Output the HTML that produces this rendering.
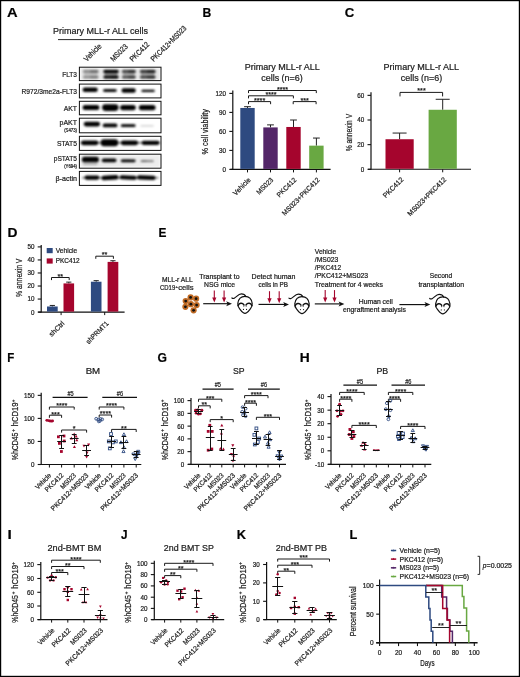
<!DOCTYPE html>
<html><head><meta charset="utf-8"><title>Figure</title>
<style>html,body{margin:0;padding:0;background:#fff}svg{display:block}text{font-family:"Liberation Sans",sans-serif;stroke:#222;stroke-width:0.22px}</style>
</head><body>
<svg width="520" height="677" viewBox="0 0 520 677">
<defs><filter id="bl" x="-5%" y="-5%" width="110%" height="110%"><feGaussianBlur stdDeviation="0.85"/></filter></defs>
<rect x="0.5" y="0.5" width="519" height="676" fill="#fff" stroke="#000" stroke-width="1.4"/>
<text transform="translate(7.00,17.20)" x="0.00" y="0" font-size="12.8" font-weight="bold" textLength="10.63" lengthAdjust="spacingAndGlyphs" fill="#000">A</text>
<text transform="translate(53.00,34.20)" x="0.00" y="0" font-size="9.6" textLength="95.00" lengthAdjust="spacingAndGlyphs" fill="#1a1a1a">Primary MLL-r ALL cells</text>
<line x1="58.00" y1="39.60" x2="143.00" y2="39.60" stroke="#111" stroke-width="0.9"/>
<text transform="translate(86.80,62.00) rotate(-45)" x="0.00" y="0" font-size="7.7" textLength="21.50" lengthAdjust="spacingAndGlyphs" fill="#1a1a1a">Vehicle</text>
<text transform="translate(113.40,62.00) rotate(-45)" x="0.00" y="0" font-size="7.7" textLength="21.00" lengthAdjust="spacingAndGlyphs" fill="#1a1a1a">MS023</text>
<text transform="translate(132.80,62.00) rotate(-45)" x="0.00" y="0" font-size="7.7" textLength="24.00" lengthAdjust="spacingAndGlyphs" fill="#1a1a1a">PKC412</text>
<text transform="translate(153.80,62.00) rotate(-45)" x="0.00" y="0" font-size="7.7" textLength="47.00" lengthAdjust="spacingAndGlyphs" fill="#1a1a1a">PKC412+MS023</text>
<g filter="url(#bl)">
<rect x="80.40" y="68.30" width="79.60" height="11.40" fill="#000" opacity="0.09"/>
<rect x="82.8" y="69.80" width="15.8" height="3.40" rx="1.70" fill="#000" opacity="0.33"/>
<rect x="82.8" y="75.50" width="15.8" height="3.20" rx="1.60" fill="#000" opacity="0.29700000000000004"/>
<rect x="83.80" y="70.00" width="13.80" height="8.60" fill="#000" opacity="0.10"/>
<rect x="89.9" y="69.90" width="8.7" height="3.20" rx="1.60" fill="#000" opacity="0.23099999999999998"/>
<rect x="89.9" y="75.70" width="8.7" height="2.80" rx="1.40" fill="#000" opacity="0.18150000000000002"/>
<rect x="103.3" y="69.80" width="15.3" height="3.40" rx="1.70" fill="#000" opacity="1.0"/>
<rect x="103.3" y="75.50" width="15.3" height="3.20" rx="1.60" fill="#000" opacity="0.9"/>
<rect x="104.30" y="70.00" width="13.30" height="8.60" fill="#000" opacity="0.30"/>
<rect x="110.2" y="69.90" width="8.4" height="3.20" rx="1.60" fill="#000" opacity="0.7"/>
<rect x="110.2" y="75.70" width="8.4" height="2.80" rx="1.40" fill="#000" opacity="0.55"/>
<rect x="121.8" y="69.80" width="14.0" height="3.40" rx="1.70" fill="#000" opacity="0.62"/>
<rect x="121.8" y="75.50" width="14.0" height="3.20" rx="1.60" fill="#000" opacity="0.558"/>
<rect x="122.80" y="70.00" width="12.00" height="8.60" fill="#000" opacity="0.19"/>
<rect x="128.1" y="69.90" width="7.7" height="3.20" rx="1.60" fill="#000" opacity="0.434"/>
<rect x="128.1" y="75.70" width="7.7" height="2.80" rx="1.40" fill="#000" opacity="0.341"/>
<rect x="139.8" y="69.80" width="15.8" height="3.40" rx="1.70" fill="#000" opacity="0.7"/>
<rect x="139.8" y="75.50" width="15.8" height="3.20" rx="1.60" fill="#000" opacity="0.63"/>
<rect x="140.80" y="70.00" width="13.80" height="8.60" fill="#000" opacity="0.21"/>
<rect x="146.9" y="69.90" width="8.7" height="3.20" rx="1.60" fill="#000" opacity="0.48999999999999994"/>
<rect x="146.9" y="75.70" width="8.7" height="2.80" rx="1.40" fill="#000" opacity="0.385"/>
<rect x="82.6" y="87.40" width="15.2" height="4.60" rx="2.30" fill="#000" opacity="1"/>
<rect x="103.0" y="89.30" width="13.8" height="2.40" rx="1.20" fill="#000" opacity="1"/>
<rect x="121.5" y="88.20" width="14.3" height="4.60" rx="2.30" fill="#000" opacity="1"/>
<rect x="141.4" y="89.80" width="13.4" height="2.20" rx="1.10" fill="#000" opacity="1"/>
<rect x="104.0" y="89.40" width="11.8" height="2.20" rx="1.10" fill="#000" opacity="1"/>
<rect x="105.0" y="89.60" width="10.0" height="1.80" rx="0.90" fill="#000" opacity="1"/>
<rect x="142.4" y="89.90" width="11.4" height="2.00" rx="1.00" fill="#000" opacity="1"/>
<rect x="143.5" y="90.10" width="9.5" height="1.60" rx="0.80" fill="#000" opacity="1"/>
<rect x="82.6" y="105.10" width="16.8" height="5.00" rx="2.50" fill="#000" opacity="1"/>
<rect x="83.6" y="105.60" width="14.8" height="4.00" rx="2.00" fill="#000" opacity="1"/>
<rect x="102.1" y="104.30" width="16.4" height="6.60" rx="3.30" fill="#000" opacity="1"/>
<rect x="103.1" y="104.96" width="14.4" height="5.28" rx="2.64" fill="#000" opacity="1"/>
<rect x="120.1" y="104.90" width="15.7" height="5.40" rx="2.70" fill="#000" opacity="1"/>
<rect x="121.1" y="105.44" width="13.7" height="4.32" rx="2.16" fill="#000" opacity="1"/>
<rect x="138.8" y="104.90" width="16.8" height="5.40" rx="2.70" fill="#000" opacity="1"/>
<rect x="139.8" y="105.44" width="14.8" height="4.32" rx="2.16" fill="#000" opacity="1"/>
<rect x="83.7" y="121.70" width="16.4" height="4.80" rx="2.40" fill="#000" opacity="1"/>
<rect x="85.0" y="122.30" width="14.0" height="3.60" rx="1.80" fill="#000" opacity="1"/>
<rect x="102.7" y="123.50" width="14.7" height="3.80" rx="1.90" fill="#000" opacity="1"/>
<rect x="104.0" y="124.10" width="12.0" height="2.60" rx="1.30" fill="#000" opacity="1"/>
<rect x="120.8" y="124.30" width="14.8" height="2.80" rx="1.40" fill="#000" opacity="1"/>
<rect x="122.5" y="124.80" width="11.5" height="1.80" rx="0.90" fill="#000" opacity="1"/>
<rect x="140.4" y="125.30" width="13.3" height="1.20" rx="0.60" fill="#000" opacity="0.22"/>
<rect x="81.0" y="140.40" width="17.4" height="4.80" rx="2.40" fill="#000" opacity="1"/>
<rect x="82.0" y="140.88" width="15.4" height="3.84" rx="1.92" fill="#000" opacity="1"/>
<rect x="100.6" y="139.35" width="17.7" height="6.90" rx="3.45" fill="#000" opacity="1"/>
<rect x="101.6" y="140.04" width="15.7" height="5.52" rx="2.76" fill="#000" opacity="1"/>
<rect x="120.8" y="140.40" width="17.3" height="4.80" rx="2.40" fill="#000" opacity="1"/>
<rect x="121.8" y="140.88" width="15.3" height="3.84" rx="1.92" fill="#000" opacity="1"/>
<rect x="141.6" y="140.65" width="18.0" height="4.30" rx="2.15" fill="#000" opacity="1"/>
<rect x="142.6" y="141.08" width="16.0" height="3.44" rx="1.72" fill="#000" opacity="1"/>
<line x1="80.50" y1="142.80" x2="160.00" y2="142.80" stroke="#000" stroke-width="1.6" opacity="0.6"/>
<rect x="80.40" y="155.20" width="79.60" height="12.00" fill="#000" opacity="0.07"/>
<rect x="81.9" y="156.65" width="17.0" height="5.70" rx="2.85" fill="#000" opacity="1"/>
<rect x="83.0" y="157.30" width="15.0" height="4.40" rx="2.20" fill="#000" opacity="1"/>
<rect x="83.0" y="162.80" width="14.5" height="2.40" rx="1.20" fill="#000" opacity="0.22"/>
<rect x="101.8" y="158.40" width="14.7" height="3.80" rx="1.90" fill="#000" opacity="1"/>
<rect x="103.0" y="159.00" width="12.5" height="2.60" rx="1.30" fill="#000" opacity="1"/>
<rect x="120.8" y="159.45" width="14.8" height="2.70" rx="1.35" fill="#000" opacity="1"/>
<rect x="122.0" y="159.65" width="9.0" height="1.90" rx="0.95" fill="#000" opacity="1"/>
<rect x="140.7" y="160.30" width="13.0" height="1.80" rx="0.90" fill="#000" opacity="0.5"/>
<rect x="141.0" y="160.40" width="6.0" height="1.40" rx="0.70" fill="#000" opacity="0.3"/>
<rect x="84.5" y="175.45" width="14.9" height="4.30" rx="2.15" fill="#000" opacity="1"/>
<rect x="85.5" y="175.88" width="12.9" height="3.44" rx="1.72" fill="#000" opacity="1"/>
<rect x="101.3" y="175.35" width="17.2" height="4.50" rx="2.25" fill="#000" opacity="1" transform="rotate(-3 109.9 177.6)"/>
<rect x="102.3" y="175.80" width="15.2" height="3.60" rx="1.80" fill="#000" opacity="1" transform="rotate(-3 109.9 177.6)"/>
<rect x="119.6" y="175.60" width="17.0" height="4.00" rx="2.00" fill="#000" opacity="1" transform="rotate(2 128.1 177.6)"/>
<rect x="120.6" y="176.00" width="15.0" height="3.20" rx="1.60" fill="#000" opacity="1" transform="rotate(2 128.1 177.6)"/>
<rect x="137.0" y="175.45" width="18.6" height="4.30" rx="2.15" fill="#000" opacity="1" transform="rotate(2 146.3 177.6)"/>
<rect x="138.0" y="175.88" width="16.6" height="3.44" rx="1.72" fill="#000" opacity="1" transform="rotate(2 146.3 177.6)"/>
<line x1="82.00" y1="177.80" x2="158.50" y2="177.80" stroke="#000" stroke-width="1.4" opacity="0.55"/>
</g>
<rect x="79.40" y="67.20" width="81.60" height="13.40" fill="none" stroke="#111" stroke-width="1.0"/>
<rect x="79.40" y="84.10" width="81.60" height="13.80" fill="none" stroke="#111" stroke-width="1.0"/>
<rect x="79.40" y="101.30" width="81.60" height="13.50" fill="none" stroke="#111" stroke-width="1.0"/>
<rect x="79.40" y="118.20" width="81.60" height="14.60" fill="none" stroke="#111" stroke-width="1.0"/>
<rect x="79.40" y="136.30" width="81.60" height="14.10" fill="none" stroke="#111" stroke-width="1.0"/>
<rect x="79.40" y="154.20" width="81.60" height="14.00" fill="none" stroke="#111" stroke-width="1.0"/>
<rect x="79.40" y="171.40" width="81.60" height="14.00" fill="none" stroke="#111" stroke-width="1.0"/>
<text transform="translate(77.00,76.80)" x="-14.80" y="0" font-size="8" textLength="14.80" lengthAdjust="spacingAndGlyphs" fill="#1a1a1a">FLT3</text>
<text transform="translate(77.00,93.90)" x="-55.60" y="0" font-size="8" textLength="55.60" lengthAdjust="spacingAndGlyphs" fill="#1a1a1a">R972/3me2a-FLT3</text>
<text transform="translate(77.00,110.90)" x="-13.30" y="0" font-size="8" textLength="13.30" lengthAdjust="spacingAndGlyphs" fill="#1a1a1a">AKT</text>
<text transform="translate(77.00,124.80)" x="-17.50" y="0" font-size="8" textLength="17.50" lengthAdjust="spacingAndGlyphs" fill="#1a1a1a">pAKT</text>
<text transform="translate(77.00,131.80)" x="-12.80" y="0" font-size="5" textLength="12.80" lengthAdjust="spacingAndGlyphs" fill="#1a1a1a">(S473)</text>
<text transform="translate(77.00,146.20)" x="-20.00" y="0" font-size="8" textLength="20.00" lengthAdjust="spacingAndGlyphs" fill="#1a1a1a">STAT5</text>
<text transform="translate(77.00,160.70)" x="-23.30" y="0" font-size="8" textLength="23.30" lengthAdjust="spacingAndGlyphs" fill="#1a1a1a">pSTAT5</text>
<text transform="translate(77.00,167.80)" x="-12.80" y="0" font-size="5" textLength="12.80" lengthAdjust="spacingAndGlyphs" fill="#1a1a1a">(Y694)</text>
<text transform="translate(77.00,181.40)" x="-21.50" y="0" font-size="8" textLength="21.50" lengthAdjust="spacingAndGlyphs" fill="#1a1a1a">β-actin</text>
<text transform="translate(202.60,17.20)" x="0.00" y="0" font-size="12.8" font-weight="bold" textLength="8.78" lengthAdjust="spacingAndGlyphs" fill="#000">B</text>
<text transform="translate(282.20,70.20)" x="-37.50" y="0" font-size="9" fill="#1a1a1a">Primary MLL-r ALL</text>
<text transform="translate(282.00,80.60)" x="-20.75" y="0" font-size="9" textLength="41.50" lengthAdjust="spacingAndGlyphs" fill="#1a1a1a">cells (n=6)</text>
<line x1="232.80" y1="90.40" x2="232.80" y2="169.90" stroke="#111" stroke-width="1.2"/>
<line x1="229.30" y1="169.40" x2="232.80" y2="169.40" stroke="#111" stroke-width="1.1"/>
<text transform="translate(226.00,171.81)" x="-3.50" y="0" font-size="6.7" textLength="3.50" lengthAdjust="spacingAndGlyphs" fill="#1a1a1a">0</text>
<line x1="229.30" y1="150.40" x2="232.80" y2="150.40" stroke="#111" stroke-width="1.1"/>
<text transform="translate(226.00,152.81)" x="-7.00" y="0" font-size="6.7" textLength="7.00" lengthAdjust="spacingAndGlyphs" fill="#1a1a1a">30</text>
<line x1="229.30" y1="131.40" x2="232.80" y2="131.40" stroke="#111" stroke-width="1.1"/>
<text transform="translate(226.00,133.81)" x="-7.00" y="0" font-size="6.7" textLength="7.00" lengthAdjust="spacingAndGlyphs" fill="#1a1a1a">60</text>
<line x1="229.30" y1="112.40" x2="232.80" y2="112.40" stroke="#111" stroke-width="1.1"/>
<text transform="translate(226.00,114.81)" x="-7.00" y="0" font-size="6.7" textLength="7.00" lengthAdjust="spacingAndGlyphs" fill="#1a1a1a">90</text>
<line x1="229.30" y1="93.40" x2="232.80" y2="93.40" stroke="#111" stroke-width="1.1"/>
<text transform="translate(226.00,95.81)" x="-10.51" y="0" font-size="6.7" textLength="10.51" lengthAdjust="spacingAndGlyphs" fill="#1a1a1a">120</text>
<line x1="230.40" y1="169.40" x2="330.60" y2="169.40" stroke="#111" stroke-width="1.1"/>
<text transform="translate(208.40,131.70) rotate(-90)" x="-22.70" y="0" font-size="8.2" textLength="45.40" lengthAdjust="spacingAndGlyphs" fill="#1a1a1a">% cell viability</text>
<line x1="247.50" y1="107.97" x2="247.50" y2="106.70" stroke="#222" stroke-width="1"/>
<line x1="244.10" y1="106.70" x2="250.90" y2="106.70" stroke="#222" stroke-width="1"/>
<rect x="240.30" y="107.97" width="14.40" height="60.93" fill="#2E4A80"/>
<line x1="247.50" y1="169.40" x2="247.50" y2="172.40" stroke="#111" stroke-width="1"/>
<line x1="270.50" y1="127.41" x2="270.50" y2="124.88" stroke="#222" stroke-width="1"/>
<line x1="267.10" y1="124.88" x2="273.90" y2="124.88" stroke="#222" stroke-width="1"/>
<rect x="263.30" y="127.41" width="14.40" height="41.49" fill="#532668"/>
<line x1="270.50" y1="169.40" x2="270.50" y2="172.40" stroke="#111" stroke-width="1"/>
<line x1="293.50" y1="126.97" x2="293.50" y2="120.00" stroke="#222" stroke-width="1"/>
<line x1="290.10" y1="120.00" x2="296.90" y2="120.00" stroke="#222" stroke-width="1"/>
<rect x="286.30" y="126.97" width="14.40" height="41.93" fill="#A5052D"/>
<line x1="293.50" y1="169.40" x2="293.50" y2="172.40" stroke="#111" stroke-width="1"/>
<line x1="316.40" y1="145.65" x2="316.40" y2="138.05" stroke="#222" stroke-width="1"/>
<line x1="313.00" y1="138.05" x2="319.80" y2="138.05" stroke="#222" stroke-width="1"/>
<rect x="309.20" y="145.65" width="14.40" height="23.25" fill="#69A842"/>
<line x1="316.40" y1="169.40" x2="316.40" y2="172.40" stroke="#111" stroke-width="1"/>
<path d="M248.50,93.10V90.50H316.30V93.10" fill="none" stroke="#1a1a1a" stroke-width="1.0"/>
<text transform="translate(282.50,91.60)" x="-5.60" y="0" font-size="6.6" textLength="11.20" lengthAdjust="spacingAndGlyphs" fill="#111" stroke="none">****</text>
<path d="M248.50,98.40V95.80H293.40V98.40" fill="none" stroke="#1a1a1a" stroke-width="1.0"/>
<text transform="translate(271.00,96.90)" x="-5.60" y="0" font-size="6.6" textLength="11.20" lengthAdjust="spacingAndGlyphs" fill="#111" stroke="none">****</text>
<path d="M248.50,104.20V101.60H270.60V104.20" fill="none" stroke="#1a1a1a" stroke-width="1.0"/>
<text transform="translate(259.60,102.70)" x="-5.60" y="0" font-size="6.6" textLength="11.20" lengthAdjust="spacingAndGlyphs" fill="#111" stroke="none">****</text>
<path d="M293.20,104.20V101.60H316.10V104.20" fill="none" stroke="#1a1a1a" stroke-width="1.0"/>
<text transform="translate(304.60,102.70)" x="-4.20" y="0" font-size="6.6" textLength="8.40" lengthAdjust="spacingAndGlyphs" fill="#111" stroke="none">***</text>
<text transform="translate(251.20,180.46) rotate(-45)" x="-21.83" y="0" font-size="7" textLength="21.83" lengthAdjust="spacingAndGlyphs" fill="#1a1a1a">Vehicle</text>
<text transform="translate(273.70,180.46) rotate(-45)" x="-20.42" y="0" font-size="7" textLength="20.42" lengthAdjust="spacingAndGlyphs" fill="#1a1a1a">MS023</text>
<text transform="translate(296.70,180.46) rotate(-45)" x="-24.38" y="0" font-size="7" textLength="24.38" lengthAdjust="spacingAndGlyphs" fill="#1a1a1a">PKC412</text>
<text transform="translate(320.20,180.46) rotate(-45)" x="-50.11" y="0" font-size="7" textLength="50.11" lengthAdjust="spacingAndGlyphs" fill="#1a1a1a">MS023+PKC412</text>
<text transform="translate(344.80,17.20)" x="0.00" y="0" font-size="12.8" font-weight="bold" textLength="9.52" lengthAdjust="spacingAndGlyphs" fill="#000">C</text>
<text transform="translate(421.30,70.20)" x="-37.75" y="0" font-size="9" textLength="75.50" lengthAdjust="spacingAndGlyphs" fill="#1a1a1a">Primary MLL-r ALL</text>
<text transform="translate(421.50,80.60)" x="-20.75" y="0" font-size="9" textLength="41.50" lengthAdjust="spacingAndGlyphs" fill="#1a1a1a">cells (n=6)</text>
<line x1="371.00" y1="92.35" x2="371.00" y2="169.80" stroke="#111" stroke-width="1.2"/>
<line x1="367.50" y1="169.30" x2="371.00" y2="169.30" stroke="#111" stroke-width="1.1"/>
<text transform="translate(364.20,171.71)" x="-3.50" y="0" font-size="6.7" textLength="3.50" lengthAdjust="spacingAndGlyphs" fill="#1a1a1a">0</text>
<line x1="367.50" y1="144.65" x2="371.00" y2="144.65" stroke="#111" stroke-width="1.1"/>
<text transform="translate(364.20,147.06)" x="-7.00" y="0" font-size="6.7" textLength="7.00" lengthAdjust="spacingAndGlyphs" fill="#1a1a1a">20</text>
<line x1="367.50" y1="120.00" x2="371.00" y2="120.00" stroke="#111" stroke-width="1.1"/>
<text transform="translate(364.20,122.41)" x="-7.00" y="0" font-size="6.7" textLength="7.00" lengthAdjust="spacingAndGlyphs" fill="#1a1a1a">40</text>
<line x1="367.50" y1="95.35" x2="371.00" y2="95.35" stroke="#111" stroke-width="1.1"/>
<text transform="translate(364.20,97.76)" x="-7.00" y="0" font-size="6.7" textLength="7.00" lengthAdjust="spacingAndGlyphs" fill="#1a1a1a">60</text>
<line x1="368.00" y1="169.30" x2="471.00" y2="169.30" stroke="#111" stroke-width="1.1"/>
<text transform="translate(351.50,132.60) rotate(-90)" x="-18.75" y="0" font-size="8.2" textLength="37.50" lengthAdjust="spacingAndGlyphs" fill="#1a1a1a">% annexin V</text>
<line x1="399.60" y1="139.23" x2="399.60" y2="133.06" stroke="#222" stroke-width="1"/>
<line x1="392.60" y1="133.06" x2="406.60" y2="133.06" stroke="#222" stroke-width="1"/>
<rect x="385.50" y="139.23" width="28.20" height="29.57" fill="#A5052D"/>
<line x1="399.60" y1="169.30" x2="399.60" y2="172.30" stroke="#111" stroke-width="1"/>
<line x1="442.70" y1="109.77" x2="442.70" y2="99.29" stroke="#222" stroke-width="1"/>
<line x1="435.70" y1="99.29" x2="449.70" y2="99.29" stroke="#222" stroke-width="1"/>
<rect x="428.60" y="109.77" width="28.20" height="59.03" fill="#69A842"/>
<line x1="442.70" y1="169.30" x2="442.70" y2="172.30" stroke="#111" stroke-width="1"/>
<path d="M400.00,96.40V92.40H442.60V96.40" fill="none" stroke="#1a1a1a" stroke-width="1.0"/>
<text transform="translate(421.50,93.30)" x="-4.20" y="0" font-size="6.6" textLength="8.40" lengthAdjust="spacingAndGlyphs" fill="#111" stroke="none">***</text>
<text transform="translate(403.90,180.16) rotate(-45)" x="-25.51" y="0" font-size="7" textLength="25.51" lengthAdjust="spacingAndGlyphs" fill="#1a1a1a">PKC412</text>
<text transform="translate(446.60,180.16) rotate(-45)" x="-51.25" y="0" font-size="7" textLength="51.25" lengthAdjust="spacingAndGlyphs" fill="#1a1a1a">MS023+PKC412</text>
<text transform="translate(7.40,237.30)" x="0.00" y="0" font-size="12.8" font-weight="bold" textLength="9.98" lengthAdjust="spacingAndGlyphs" fill="#000">D</text>
<line x1="41.20" y1="244.90" x2="41.20" y2="312.60" stroke="#111" stroke-width="1.2"/>
<line x1="37.70" y1="312.10" x2="41.20" y2="312.10" stroke="#111" stroke-width="1.1"/>
<text transform="translate(34.40,314.51)" x="-3.50" y="0" font-size="6.7" textLength="3.50" lengthAdjust="spacingAndGlyphs" fill="#1a1a1a">0</text>
<line x1="37.70" y1="299.06" x2="41.20" y2="299.06" stroke="#111" stroke-width="1.1"/>
<text transform="translate(34.40,301.47)" x="-7.00" y="0" font-size="6.7" textLength="7.00" lengthAdjust="spacingAndGlyphs" fill="#1a1a1a">10</text>
<line x1="37.70" y1="286.02" x2="41.20" y2="286.02" stroke="#111" stroke-width="1.1"/>
<text transform="translate(34.40,288.43)" x="-7.00" y="0" font-size="6.7" textLength="7.00" lengthAdjust="spacingAndGlyphs" fill="#1a1a1a">20</text>
<line x1="37.70" y1="272.98" x2="41.20" y2="272.98" stroke="#111" stroke-width="1.1"/>
<text transform="translate(34.40,275.39)" x="-7.00" y="0" font-size="6.7" textLength="7.00" lengthAdjust="spacingAndGlyphs" fill="#1a1a1a">30</text>
<line x1="37.70" y1="259.94" x2="41.20" y2="259.94" stroke="#111" stroke-width="1.1"/>
<text transform="translate(34.40,262.35)" x="-7.00" y="0" font-size="6.7" textLength="7.00" lengthAdjust="spacingAndGlyphs" fill="#1a1a1a">40</text>
<line x1="37.70" y1="246.90" x2="41.20" y2="246.90" stroke="#111" stroke-width="1.1"/>
<text transform="translate(34.40,249.31)" x="-7.00" y="0" font-size="6.7" textLength="7.00" lengthAdjust="spacingAndGlyphs" fill="#1a1a1a">50</text>
<line x1="38.20" y1="312.10" x2="124.60" y2="312.10" stroke="#111" stroke-width="1.1"/>
<text transform="translate(22.00,277.80) rotate(-90)" x="-19.25" y="0" font-size="8.2" textLength="38.50" lengthAdjust="spacingAndGlyphs" fill="#1a1a1a">% annexin V</text>
<line x1="52.35" y1="306.49" x2="52.35" y2="305.45" stroke="#222" stroke-width="1"/>
<line x1="49.75" y1="305.45" x2="54.95" y2="305.45" stroke="#222" stroke-width="1"/>
<rect x="47.00" y="306.49" width="10.70" height="5.11" fill="#2E4A80"/>
<line x1="68.80" y1="283.41" x2="68.80" y2="282.11" stroke="#222" stroke-width="1"/>
<line x1="66.20" y1="282.11" x2="71.40" y2="282.11" stroke="#222" stroke-width="1"/>
<rect x="63.50" y="283.41" width="10.60" height="28.19" fill="#A5052D"/>
<line x1="96.20" y1="281.72" x2="96.20" y2="280.67" stroke="#222" stroke-width="1"/>
<line x1="93.60" y1="280.67" x2="98.80" y2="280.67" stroke="#222" stroke-width="1"/>
<rect x="90.90" y="281.72" width="10.60" height="29.88" fill="#2E4A80"/>
<line x1="112.95" y1="261.90" x2="112.95" y2="260.72" stroke="#222" stroke-width="1"/>
<line x1="110.35" y1="260.72" x2="115.55" y2="260.72" stroke="#222" stroke-width="1"/>
<rect x="107.60" y="261.90" width="10.70" height="49.70" fill="#A5052D"/>
<line x1="61.10" y1="312.10" x2="61.10" y2="315.10" stroke="#111" stroke-width="1"/>
<line x1="104.70" y1="312.10" x2="104.70" y2="315.10" stroke="#111" stroke-width="1"/>
<path d="M51.50,280.10V277.50H69.20V280.10" fill="none" stroke="#1a1a1a" stroke-width="1.0"/>
<text transform="translate(60.30,278.70)" x="-2.80" y="0" font-size="6.6" textLength="5.60" lengthAdjust="spacingAndGlyphs" fill="#111" stroke="none">**</text>
<path d="M95.80,258.80V256.20H113.40V258.80" fill="none" stroke="#1a1a1a" stroke-width="1.0"/>
<text transform="translate(104.60,257.40)" x="-2.80" y="0" font-size="6.6" textLength="5.60" lengthAdjust="spacingAndGlyphs" fill="#111" stroke="none">**</text>
<rect x="46.70" y="248.00" width="6.00" height="5.20" fill="#2E4A80"/>
<rect x="46.70" y="258.40" width="6.00" height="5.20" fill="#A5052D"/>
<text transform="translate(55.70,252.90)" x="0.00" y="0" font-size="7" textLength="21.50" lengthAdjust="spacingAndGlyphs" fill="#1a1a1a">Vehicle</text>
<text transform="translate(55.70,263.40)" x="0.00" y="0" font-size="7" textLength="24.00" lengthAdjust="spacingAndGlyphs" fill="#1a1a1a">PKC412</text>
<text transform="translate(64.90,323.96) rotate(-45)" x="-18.44" y="0" font-size="7" textLength="18.44" lengthAdjust="spacingAndGlyphs" fill="#1a1a1a">shCtrl</text>
<text transform="translate(109.10,323.96) rotate(-45)" x="-28.90" y="0" font-size="7" textLength="28.90" lengthAdjust="spacingAndGlyphs" fill="#1a1a1a">shPRMT1</text>
<text transform="translate(158.60,237.30)" x="0.00" y="0" font-size="12.8" font-weight="bold" textLength="7.94" lengthAdjust="spacingAndGlyphs" fill="#000">E</text>
<text transform="translate(177.30,282.00)" x="-15.35" y="0" font-size="6.7" textLength="30.70" lengthAdjust="spacingAndGlyphs" fill="#1a1a1a">MLL-r ALL</text>
<text transform="translate(160.00,290.20)" x="0.00" y="0" font-size="6.7" textLength="15.20" lengthAdjust="spacingAndGlyphs" fill="#1a1a1a">CD19</text>
<text transform="translate(175.40,288.00)" x="0.00" y="0" font-size="4.4" fill="#1a1a1a">+</text>
<text transform="translate(178.20,290.20)" x="0.00" y="0" font-size="6.7" textLength="15.40" lengthAdjust="spacingAndGlyphs" fill="#1a1a1a">cells</text>
<circle cx="185.7" cy="301.1" r="3.1" fill="#BF6A24"/>
<circle cx="190.6" cy="297.4" r="3.1" fill="#BF6A24"/>
<circle cx="196.1" cy="298.7" r="3.1" fill="#BF6A24"/>
<circle cx="185.4" cy="306.8" r="3.1" fill="#BF6A24"/>
<circle cx="190.9" cy="304.2" r="3.1" fill="#BF6A24"/>
<circle cx="196.6" cy="305.1" r="3.1" fill="#BF6A24"/>
<circle cx="193.6" cy="310.3" r="3.1" fill="#BF6A24"/>
<circle cx="185.7" cy="301.1" r="1.4" fill="#111"/>
<circle cx="190.6" cy="297.4" r="1.4" fill="#111"/>
<circle cx="196.1" cy="298.7" r="1.4" fill="#111"/>
<circle cx="185.4" cy="306.8" r="1.4" fill="#111"/>
<circle cx="190.9" cy="304.2" r="1.4" fill="#111"/>
<circle cx="196.6" cy="305.1" r="1.4" fill="#111"/>
<circle cx="193.6" cy="310.3" r="1.4" fill="#111"/>
<text transform="translate(219.40,279.10)" x="-20.10" y="0" font-size="6.7" textLength="40.20" lengthAdjust="spacingAndGlyphs" fill="#1a1a1a">Transplant to</text>
<text transform="translate(219.50,287.30)" x="-15.50" y="0" font-size="6.7" textLength="31.00" lengthAdjust="spacingAndGlyphs" fill="#1a1a1a">NSG mice</text>
<line x1="203.20" y1="303.70" x2="229.00" y2="303.70" stroke="#111" stroke-width="1.15"/>
<path d="M232.00,303.70L226.20,301.20L227.60,303.70L226.20,306.20Z" fill="#111"/>
<line x1="214.30" y1="290.40" x2="214.30" y2="299.40" stroke="#A5052D" stroke-width="1.1"/>
<path d="M214.30,302.40L212.20,297.40L216.40,297.40Z" fill="#A5052D"/>
<line x1="224.10" y1="290.40" x2="224.10" y2="299.40" stroke="#A5052D" stroke-width="1.1"/>
<path d="M224.10,302.40L222.00,297.40L226.20,297.40Z" fill="#A5052D"/>
<g transform="translate(245.00,304.80) scale(0.92)" fill="none" stroke="#111" stroke-linecap="round">
<path d="M0,-9.2 C4.2,-9.2 7.2,-6 7.8,-1.6 C8.1,0.6 7.4,2.6 6,4.2 C4.4,6 2.4,9.3 0,9.3 C-2.4,9.3 -4.4,6 -6,4.2 C-7.4,2.6 -8.1,0.6 -7.8,-1.6 C-7.2,-6 -4.2,-9.2 0,-9.2Z" stroke-width="1.3" fill="#fff"/>
<path d="M-7.4,0.7 C-6.4,-2 -3,-2.6 -1.3,-0.2" stroke-width="1.6"/>
<path d="M7.4,0.7 C6.4,-2 3,-2.6 1.3,-0.2" stroke-width="1.6"/>
<path d="M-1.3,-0.2 C-1.0,0.4 -1.0,1 -1.2,1.6 M1.3,-0.2 C1.0,0.4 1.0,1 1.2,1.6" stroke-width="0.9"/>
<circle cx="-1.7" cy="5" r="0.6" fill="#111" stroke="none"/><circle cx="1.7" cy="5" r="0.6" fill="#111" stroke="none"/>
<path d="M0.9,-9 C0.2,-10.6 -1.6,-11.8 -4,-11.8 C-7.4,-11.8 -9.4,-8 -12,-7 C-12.8,-6.7 -13.6,-6.8 -14.2,-7.4" stroke-width="1.3"/>
</g>
<text transform="translate(273.50,279.10)" x="-21.90" y="0" font-size="6.7" textLength="43.80" lengthAdjust="spacingAndGlyphs" fill="#1a1a1a">Detect human</text>
<text transform="translate(273.30,287.30)" x="-14.75" y="0" font-size="6.7" textLength="29.50" lengthAdjust="spacingAndGlyphs" fill="#1a1a1a">cells in PB</text>
<line x1="258.50" y1="304.40" x2="286.00" y2="304.40" stroke="#111" stroke-width="1.15"/>
<path d="M289.00,304.40L283.20,301.90L284.60,304.40L283.20,306.90Z" fill="#111"/>
<line x1="269.50" y1="291.20" x2="269.50" y2="300.20" stroke="#A5052D" stroke-width="1.1"/>
<path d="M269.50,303.20L267.40,298.20L271.60,298.20Z" fill="#A5052D"/>
<line x1="279.20" y1="291.20" x2="279.20" y2="300.20" stroke="#A5052D" stroke-width="1.1"/>
<path d="M279.20,303.20L277.10,298.20L281.30,298.20Z" fill="#A5052D"/>
<g transform="translate(302.00,305.00) scale(0.92)" fill="none" stroke="#111" stroke-linecap="round">
<path d="M0,-9.2 C4.2,-9.2 7.2,-6 7.8,-1.6 C8.1,0.6 7.4,2.6 6,4.2 C4.4,6 2.4,9.3 0,9.3 C-2.4,9.3 -4.4,6 -6,4.2 C-7.4,2.6 -8.1,0.6 -7.8,-1.6 C-7.2,-6 -4.2,-9.2 0,-9.2Z" stroke-width="1.3" fill="#fff"/>
<path d="M-7.4,0.7 C-6.4,-2 -3,-2.6 -1.3,-0.2" stroke-width="1.6"/>
<path d="M7.4,0.7 C6.4,-2 3,-2.6 1.3,-0.2" stroke-width="1.6"/>
<path d="M-1.3,-0.2 C-1.0,0.4 -1.0,1 -1.2,1.6 M1.3,-0.2 C1.0,0.4 1.0,1 1.2,1.6" stroke-width="0.9"/>
<circle cx="-1.7" cy="5" r="0.6" fill="#111" stroke="none"/><circle cx="1.7" cy="5" r="0.6" fill="#111" stroke="none"/>
<path d="M0.9,-9 C0.2,-10.6 -1.6,-11.8 -4,-11.8 C-7.4,-11.8 -9.4,-8 -12,-7 C-12.8,-6.7 -13.6,-6.8 -14.2,-7.4" stroke-width="1.3"/>
</g>
<text transform="translate(314.80,253.60)" x="0.00" y="0" font-size="6.7" textLength="21.50" lengthAdjust="spacingAndGlyphs" fill="#1a1a1a">Vehicle</text>
<text transform="translate(314.80,261.85)" x="0.00" y="0" font-size="6.7" textLength="23.50" lengthAdjust="spacingAndGlyphs" fill="#1a1a1a">/MS023</text>
<text transform="translate(314.80,270.10)" x="0.00" y="0" font-size="6.7" textLength="26.30" lengthAdjust="spacingAndGlyphs" fill="#1a1a1a">/PKC412</text>
<text transform="translate(314.80,278.35)" x="0.00" y="0" font-size="6.7" textLength="53.40" lengthAdjust="spacingAndGlyphs" fill="#1a1a1a">/PKC412+MS023</text>
<text transform="translate(314.80,286.60)" x="0.00" y="0" font-size="6.7" textLength="68.20" lengthAdjust="spacingAndGlyphs" fill="#1a1a1a">Treatment for 4 weeks</text>
<line x1="314.80" y1="303.90" x2="341.40" y2="303.90" stroke="#111" stroke-width="1.15"/>
<path d="M344.40,303.90L338.60,301.40L340.00,303.90L338.60,306.40Z" fill="#111"/>
<line x1="325.20" y1="290.10" x2="325.20" y2="299.40" stroke="#A5052D" stroke-width="1.1"/>
<path d="M325.20,302.40L323.10,297.40L327.30,297.40Z" fill="#A5052D"/>
<line x1="334.50" y1="290.10" x2="334.50" y2="299.40" stroke="#A5052D" stroke-width="1.1"/>
<path d="M334.50,302.40L332.40,297.40L336.60,297.40Z" fill="#A5052D"/>
<text transform="translate(375.80,303.80)" x="-17.00" y="0" font-size="6.7" textLength="34.00" lengthAdjust="spacingAndGlyphs" fill="#1a1a1a">Human cell</text>
<text transform="translate(374.40,312.20)" x="-31.40" y="0" font-size="6.7" textLength="62.80" lengthAdjust="spacingAndGlyphs" fill="#1a1a1a">engraftment analysis</text>
<line x1="399.40" y1="304.60" x2="427.30" y2="304.60" stroke="#111" stroke-width="1.15"/>
<path d="M430.30,304.60L424.50,302.10L425.90,304.60L424.50,307.10Z" fill="#111"/>
<g transform="translate(442.80,305.30) scale(0.92)" fill="none" stroke="#111" stroke-linecap="round">
<path d="M0,-9.2 C4.2,-9.2 7.2,-6 7.8,-1.6 C8.1,0.6 7.4,2.6 6,4.2 C4.4,6 2.4,9.3 0,9.3 C-2.4,9.3 -4.4,6 -6,4.2 C-7.4,2.6 -8.1,0.6 -7.8,-1.6 C-7.2,-6 -4.2,-9.2 0,-9.2Z" stroke-width="1.3" fill="#fff"/>
<path d="M-7.4,0.7 C-6.4,-2 -3,-2.6 -1.3,-0.2" stroke-width="1.6"/>
<path d="M7.4,0.7 C6.4,-2 3,-2.6 1.3,-0.2" stroke-width="1.6"/>
<path d="M-1.3,-0.2 C-1.0,0.4 -1.0,1 -1.2,1.6 M1.3,-0.2 C1.0,0.4 1.0,1 1.2,1.6" stroke-width="0.9"/>
<circle cx="-1.7" cy="5" r="0.6" fill="#111" stroke="none"/><circle cx="1.7" cy="5" r="0.6" fill="#111" stroke="none"/>
<path d="M0.9,-9 C0.2,-10.6 -1.6,-11.8 -4,-11.8 C-7.4,-11.8 -9.4,-8 -12,-7 C-12.8,-6.7 -13.6,-6.8 -14.2,-7.4" stroke-width="1.3"/>
</g>
<text transform="translate(441.00,278.40)" x="-11.25" y="0" font-size="6.7" textLength="22.50" lengthAdjust="spacingAndGlyphs" fill="#1a1a1a">Second</text>
<text transform="translate(441.20,286.60)" x="-22.80" y="0" font-size="6.7" textLength="45.60" lengthAdjust="spacingAndGlyphs" fill="#1a1a1a">transplantation</text>
<text transform="translate(7.30,361.80)" x="0.00" y="0" font-size="12.8" font-weight="bold" textLength="7.04" lengthAdjust="spacingAndGlyphs" fill="#000">F</text>
<text transform="translate(92.90,373.80)" x="-7.25" y="0" font-size="9" textLength="14.50" lengthAdjust="spacingAndGlyphs" fill="#1a1a1a">BM</text>
<line x1="41.20" y1="392.85" x2="41.20" y2="465.00" stroke="#111" stroke-width="1.2"/>
<line x1="37.70" y1="464.50" x2="41.20" y2="464.50" stroke="#111" stroke-width="1.1"/>
<text transform="translate(34.40,466.91)" x="-3.50" y="0" font-size="6.7" textLength="3.50" lengthAdjust="spacingAndGlyphs" fill="#1a1a1a">0</text>
<line x1="37.70" y1="441.45" x2="41.20" y2="441.45" stroke="#111" stroke-width="1.1"/>
<text transform="translate(34.40,443.86)" x="-7.00" y="0" font-size="6.7" textLength="7.00" lengthAdjust="spacingAndGlyphs" fill="#1a1a1a">50</text>
<line x1="37.70" y1="418.40" x2="41.20" y2="418.40" stroke="#111" stroke-width="1.1"/>
<text transform="translate(34.40,420.81)" x="-10.51" y="0" font-size="6.7" textLength="10.51" lengthAdjust="spacingAndGlyphs" fill="#1a1a1a">100</text>
<line x1="37.70" y1="395.35" x2="41.20" y2="395.35" stroke="#111" stroke-width="1.1"/>
<text transform="translate(34.40,397.76)" x="-10.51" y="0" font-size="6.7" textLength="10.51" lengthAdjust="spacingAndGlyphs" fill="#1a1a1a">150</text>
<line x1="38.20" y1="464.50" x2="141.30" y2="464.50" stroke="#111" stroke-width="1.1"/>
<g transform="translate(18.00,430.00) rotate(-90)">
<text x="-30.20" y="0.00" font-size="8.4" textLength="27.60" lengthAdjust="spacingAndGlyphs" fill="#1a1a1a">%hCD45</text>
<text x="-1.80" y="-3.20" font-size="5" textLength="2.60" lengthAdjust="spacingAndGlyphs" fill="#1a1a1a">+</text>
<text x="3.70" y="0.00" font-size="8.4" textLength="23.80" lengthAdjust="spacingAndGlyphs" fill="#1a1a1a">hCD19</text>
<text x="27.80" y="-3.20" font-size="5" textLength="2.60" lengthAdjust="spacingAndGlyphs" fill="#1a1a1a">+</text>
</g>
<line x1="49.40" y1="464.50" x2="49.40" y2="467.50" stroke="#111" stroke-width="1"/>
<line x1="61.60" y1="464.50" x2="61.60" y2="467.50" stroke="#111" stroke-width="1"/>
<line x1="74.20" y1="464.50" x2="74.20" y2="467.50" stroke="#111" stroke-width="1"/>
<line x1="86.60" y1="464.50" x2="86.60" y2="467.50" stroke="#111" stroke-width="1"/>
<line x1="99.20" y1="464.50" x2="99.20" y2="467.50" stroke="#111" stroke-width="1"/>
<line x1="111.60" y1="464.50" x2="111.60" y2="467.50" stroke="#111" stroke-width="1"/>
<line x1="123.90" y1="464.50" x2="123.90" y2="467.50" stroke="#111" stroke-width="1"/>
<line x1="136.20" y1="464.50" x2="136.20" y2="467.50" stroke="#111" stroke-width="1"/>
<line x1="52.60" y1="397.30" x2="87.60" y2="397.30" stroke="#111" stroke-width="1.25"/>
<text transform="translate(70.60,395.70)" x="-3.15" y="0" font-size="7.8" textLength="6.30" lengthAdjust="spacingAndGlyphs" fill="#1a1a1a">#5</text>
<line x1="102.30" y1="397.30" x2="137.00" y2="397.30" stroke="#111" stroke-width="1.25"/>
<text transform="translate(120.00,395.70)" x="-3.15" y="0" font-size="7.8" textLength="6.30" lengthAdjust="spacingAndGlyphs" fill="#1a1a1a">#6</text>
<path d="M49.40,409.60V407.00H74.20V409.60" fill="none" stroke="#1a1a1a" stroke-width="1.0"/>
<text transform="translate(61.80,408.30)" x="-5.60" y="0" font-size="6.6" textLength="11.20" lengthAdjust="spacingAndGlyphs" fill="#111" stroke="none">****</text>
<path d="M49.40,417.80V415.20H61.60V417.80" fill="none" stroke="#1a1a1a" stroke-width="1.0"/>
<text transform="translate(55.50,416.50)" x="-4.20" y="0" font-size="6.6" textLength="8.40" lengthAdjust="spacingAndGlyphs" fill="#111" stroke="none">***</text>
<path d="M61.60,432.60V430.00H86.60V432.60" fill="none" stroke="#1a1a1a" stroke-width="1.0"/>
<text transform="translate(74.10,431.30)" x="-1.40" y="0" font-size="6.6" textLength="2.80" lengthAdjust="spacingAndGlyphs" fill="#111" stroke="none">*</text>
<path d="M99.20,409.60V407.00H123.90V409.60" fill="none" stroke="#1a1a1a" stroke-width="1.0"/>
<text transform="translate(111.55,408.30)" x="-5.60" y="0" font-size="6.6" textLength="11.20" lengthAdjust="spacingAndGlyphs" fill="#111" stroke="none">****</text>
<path d="M99.20,417.60V415.00H111.60V417.60" fill="none" stroke="#1a1a1a" stroke-width="1.0"/>
<text transform="translate(105.40,416.30)" x="-5.60" y="0" font-size="6.6" textLength="11.20" lengthAdjust="spacingAndGlyphs" fill="#111" stroke="none">****</text>
<path d="M111.60,432.00V429.40H136.20V432.00" fill="none" stroke="#1a1a1a" stroke-width="1.0"/>
<text transform="translate(123.90,430.70)" x="-2.80" y="0" font-size="6.6" textLength="5.60" lengthAdjust="spacingAndGlyphs" fill="#111" stroke="none">**</text>
<circle cx="46.80" cy="420.30" r="1.40" fill="#A5052D"/>
<circle cx="48.40" cy="420.60" r="1.40" fill="#A5052D"/>
<circle cx="50.00" cy="421.00" r="1.40" fill="#A5052D"/>
<circle cx="51.60" cy="421.20" r="1.40" fill="#A5052D"/>
<circle cx="52.60" cy="420.90" r="1.40" fill="#A5052D"/>
<rect x="57.00" y="435.40" width="2.80" height="2.80" fill="#A5052D"/>
<rect x="62.60" y="434.60" width="2.80" height="2.80" fill="#A5052D"/>
<rect x="58.00" y="442.00" width="2.80" height="2.80" fill="#A5052D"/>
<rect x="60.00" y="450.10" width="2.80" height="2.80" fill="#A5052D"/>
<rect x="62.80" y="439.60" width="2.80" height="2.80" fill="#A5052D"/>
<line x1="61.50" y1="448.00" x2="61.50" y2="435.00" stroke="#111" stroke-width="1.05"/>
<line x1="59.20" y1="448.50" x2="64.00" y2="448.50" stroke="#111" stroke-width="1.0"/>
<line x1="59.20" y1="435.50" x2="64.00" y2="435.50" stroke="#111" stroke-width="1.0"/>
<line x1="57.20" y1="441.50" x2="66.00" y2="441.50" stroke="#111" stroke-width="1.05"/>
<path d="M71.40,436.59L72.94,439.39L69.86,439.39Z" fill="#A5052D"/>
<path d="M76.20,434.79L77.74,437.59L74.66,437.59Z" fill="#A5052D"/>
<path d="M74.20,432.59L75.74,435.39L72.66,435.39Z" fill="#A5052D"/>
<path d="M74.40,445.19L75.94,447.99L72.86,447.99Z" fill="#A5052D"/>
<path d="M76.80,438.39L78.34,441.19L75.26,441.19Z" fill="#A5052D"/>
<line x1="74.50" y1="443.40" x2="74.50" y2="434.30" stroke="#111" stroke-width="1.05"/>
<line x1="71.80" y1="443.50" x2="76.60" y2="443.50" stroke="#111" stroke-width="1.0"/>
<line x1="71.80" y1="434.50" x2="76.60" y2="434.50" stroke="#111" stroke-width="1.0"/>
<line x1="69.80" y1="438.50" x2="78.60" y2="438.50" stroke="#111" stroke-width="1.05"/>
<path d="M84.00,447.61L85.54,444.81L82.46,444.81Z" fill="#A5052D"/>
<path d="M88.60,446.41L90.14,443.61L87.06,443.61Z" fill="#A5052D"/>
<path d="M86.60,458.61L88.14,455.81L85.06,455.81Z" fill="#A5052D"/>
<path d="M87.00,454.41L88.54,451.61L85.46,451.61Z" fill="#A5052D"/>
<line x1="86.50" y1="455.60" x2="86.50" y2="445.40" stroke="#111" stroke-width="1.05"/>
<line x1="84.20" y1="455.50" x2="89.00" y2="455.50" stroke="#111" stroke-width="1.0"/>
<line x1="84.20" y1="445.50" x2="89.00" y2="445.50" stroke="#111" stroke-width="1.0"/>
<line x1="82.20" y1="450.50" x2="91.00" y2="450.50" stroke="#111" stroke-width="1.05"/>
<circle cx="96.20" cy="418.80" r="1.40" fill="none" stroke="#2E4A80" stroke-width="0.9"/>
<circle cx="98.20" cy="419.60" r="1.40" fill="none" stroke="#2E4A80" stroke-width="0.9"/>
<circle cx="100.60" cy="419.00" r="1.40" fill="none" stroke="#2E4A80" stroke-width="0.9"/>
<circle cx="102.20" cy="419.40" r="1.40" fill="none" stroke="#2E4A80" stroke-width="0.9"/>
<circle cx="98.80" cy="421.40" r="1.40" fill="none" stroke="#2E4A80" stroke-width="0.9"/>
<circle cx="100.00" cy="420.80" r="1.40" fill="none" stroke="#2E4A80" stroke-width="0.9"/>
<rect x="109.60" y="432.60" width="2.80" height="2.80" fill="none" stroke="#2E4A80" stroke-width="0.9"/>
<rect x="114.40" y="440.00" width="2.80" height="2.80" fill="none" stroke="#2E4A80" stroke-width="0.9"/>
<rect x="107.40" y="440.00" width="2.80" height="2.80" fill="none" stroke="#2E4A80" stroke-width="0.9"/>
<rect x="108.40" y="447.00" width="2.80" height="2.80" fill="none" stroke="#2E4A80" stroke-width="0.9"/>
<rect x="111.40" y="441.00" width="2.80" height="2.80" fill="none" stroke="#2E4A80" stroke-width="0.9"/>
<line x1="111.50" y1="447.50" x2="111.50" y2="436.30" stroke="#111" stroke-width="1.05"/>
<line x1="109.20" y1="447.50" x2="114.00" y2="447.50" stroke="#111" stroke-width="1.0"/>
<line x1="109.20" y1="436.50" x2="114.00" y2="436.50" stroke="#111" stroke-width="1.0"/>
<line x1="107.20" y1="441.50" x2="116.00" y2="441.50" stroke="#111" stroke-width="1.05"/>
<path d="M123.90,432.79L125.44,435.59L122.36,435.59Z" fill="none" stroke="#2E4A80" stroke-width="0.9"/>
<path d="M120.90,440.79L122.44,443.59L119.36,443.59Z" fill="none" stroke="#2E4A80" stroke-width="0.9"/>
<path d="M126.50,439.79L128.04,442.59L124.96,442.59Z" fill="none" stroke="#2E4A80" stroke-width="0.9"/>
<path d="M123.50,449.79L125.04,452.59L121.96,452.59Z" fill="none" stroke="#2E4A80" stroke-width="0.9"/>
<path d="M123.90,445.79L125.44,448.59L122.36,448.59Z" fill="none" stroke="#2E4A80" stroke-width="0.9"/>
<line x1="123.50" y1="448.50" x2="123.50" y2="436.00" stroke="#111" stroke-width="1.05"/>
<line x1="121.50" y1="448.50" x2="126.30" y2="448.50" stroke="#111" stroke-width="1.0"/>
<line x1="121.50" y1="436.50" x2="126.30" y2="436.50" stroke="#111" stroke-width="1.0"/>
<line x1="119.50" y1="442.50" x2="128.30" y2="442.50" stroke="#111" stroke-width="1.05"/>
<path d="M138.20,453.11L139.74,450.31L136.66,450.31Z" fill="none" stroke="#2E4A80" stroke-width="0.9"/>
<path d="M133.40,455.81L134.94,453.01L131.86,453.01Z" fill="none" stroke="#2E4A80" stroke-width="0.9"/>
<path d="M137.20,456.21L138.74,453.41L135.66,453.41Z" fill="none" stroke="#2E4A80" stroke-width="0.9"/>
<path d="M135.20,460.61L136.74,457.81L133.66,457.81Z" fill="none" stroke="#2E4A80" stroke-width="0.9"/>
<path d="M136.20,458.21L137.74,455.41L134.66,455.41Z" fill="none" stroke="#2E4A80" stroke-width="0.9"/>
<path d="M138.60,454.61L140.14,451.81L137.06,451.81Z" fill="none" stroke="#2E4A80" stroke-width="0.9"/>
<line x1="136.50" y1="457.20" x2="136.50" y2="451.50" stroke="#111" stroke-width="1.05"/>
<line x1="133.80" y1="457.50" x2="138.60" y2="457.50" stroke="#111" stroke-width="1.0"/>
<line x1="133.80" y1="451.50" x2="138.60" y2="451.50" stroke="#111" stroke-width="1.0"/>
<line x1="131.80" y1="454.50" x2="140.60" y2="454.50" stroke="#111" stroke-width="1.05"/>
<text transform="translate(51.70,475.91) rotate(-45)" x="-19.50" y="0" font-size="6.9" textLength="19.50" lengthAdjust="spacingAndGlyphs" fill="#1a1a1a">Vehicle</text>
<text transform="translate(63.90,475.91) rotate(-45)" x="-23.03" y="0" font-size="6.9" textLength="23.03" lengthAdjust="spacingAndGlyphs" fill="#1a1a1a">PKC412</text>
<text transform="translate(76.50,475.91) rotate(-45)" x="-19.21" y="0" font-size="6.9" textLength="19.21" lengthAdjust="spacingAndGlyphs" fill="#1a1a1a">MS023</text>
<text transform="translate(88.90,475.91) rotate(-45)" x="-49.90" y="0" font-size="6.9" textLength="49.90" lengthAdjust="spacingAndGlyphs" fill="#1a1a1a">PKC412+MS023</text>
<text transform="translate(101.50,475.91) rotate(-45)" x="-19.50" y="0" font-size="6.9" textLength="19.50" lengthAdjust="spacingAndGlyphs" fill="#1a1a1a">Vehicle</text>
<text transform="translate(113.90,475.91) rotate(-45)" x="-23.03" y="0" font-size="6.9" textLength="23.03" lengthAdjust="spacingAndGlyphs" fill="#1a1a1a">PKC412</text>
<text transform="translate(126.20,475.91) rotate(-45)" x="-19.21" y="0" font-size="6.9" textLength="19.21" lengthAdjust="spacingAndGlyphs" fill="#1a1a1a">MS023</text>
<text transform="translate(138.50,475.91) rotate(-45)" x="-49.90" y="0" font-size="6.9" textLength="49.90" lengthAdjust="spacingAndGlyphs" fill="#1a1a1a">PKC412+MS023</text>
<text transform="translate(157.60,361.80)" x="0.00" y="0" font-size="12.8" font-weight="bold" textLength="9.46" lengthAdjust="spacingAndGlyphs" fill="#000">G</text>
<text transform="translate(238.80,373.80)" x="-5.80" y="0" font-size="9" textLength="11.60" lengthAdjust="spacingAndGlyphs" fill="#1a1a1a">SP</text>
<line x1="191.00" y1="398.10" x2="191.00" y2="464.90" stroke="#111" stroke-width="1.2"/>
<line x1="187.50" y1="464.40" x2="191.00" y2="464.40" stroke="#111" stroke-width="1.1"/>
<text transform="translate(184.20,466.81)" x="-3.50" y="0" font-size="6.7" textLength="3.50" lengthAdjust="spacingAndGlyphs" fill="#1a1a1a">0</text>
<line x1="187.50" y1="451.64" x2="191.00" y2="451.64" stroke="#111" stroke-width="1.1"/>
<text transform="translate(184.20,454.05)" x="-7.00" y="0" font-size="6.7" textLength="7.00" lengthAdjust="spacingAndGlyphs" fill="#1a1a1a">20</text>
<line x1="187.50" y1="438.88" x2="191.00" y2="438.88" stroke="#111" stroke-width="1.1"/>
<text transform="translate(184.20,441.29)" x="-7.00" y="0" font-size="6.7" textLength="7.00" lengthAdjust="spacingAndGlyphs" fill="#1a1a1a">40</text>
<line x1="187.50" y1="426.12" x2="191.00" y2="426.12" stroke="#111" stroke-width="1.1"/>
<text transform="translate(184.20,428.53)" x="-7.00" y="0" font-size="6.7" textLength="7.00" lengthAdjust="spacingAndGlyphs" fill="#1a1a1a">60</text>
<line x1="187.50" y1="413.36" x2="191.00" y2="413.36" stroke="#111" stroke-width="1.1"/>
<text transform="translate(184.20,415.77)" x="-7.00" y="0" font-size="6.7" textLength="7.00" lengthAdjust="spacingAndGlyphs" fill="#1a1a1a">80</text>
<line x1="187.50" y1="400.60" x2="191.00" y2="400.60" stroke="#111" stroke-width="1.1"/>
<text transform="translate(184.20,403.01)" x="-10.51" y="0" font-size="6.7" textLength="10.51" lengthAdjust="spacingAndGlyphs" fill="#1a1a1a">100</text>
<line x1="188.00" y1="464.40" x2="286.00" y2="464.40" stroke="#111" stroke-width="1.1"/>
<g transform="translate(167.60,430.00) rotate(-90)">
<text x="-30.20" y="0.00" font-size="8.4" textLength="27.60" lengthAdjust="spacingAndGlyphs" fill="#1a1a1a">%hCD45</text>
<text x="-1.80" y="-3.20" font-size="5" textLength="2.60" lengthAdjust="spacingAndGlyphs" fill="#1a1a1a">+</text>
<text x="3.70" y="0.00" font-size="8.4" textLength="23.80" lengthAdjust="spacingAndGlyphs" fill="#1a1a1a">hCD19</text>
<text x="27.80" y="-3.20" font-size="5" textLength="2.60" lengthAdjust="spacingAndGlyphs" fill="#1a1a1a">+</text>
</g>
<line x1="198.50" y1="464.40" x2="198.50" y2="467.40" stroke="#111" stroke-width="1"/>
<line x1="210.20" y1="464.40" x2="210.20" y2="467.40" stroke="#111" stroke-width="1"/>
<line x1="221.80" y1="464.40" x2="221.80" y2="467.40" stroke="#111" stroke-width="1"/>
<line x1="233.20" y1="464.40" x2="233.20" y2="467.40" stroke="#111" stroke-width="1"/>
<line x1="244.60" y1="464.40" x2="244.60" y2="467.40" stroke="#111" stroke-width="1"/>
<line x1="256.40" y1="464.40" x2="256.40" y2="467.40" stroke="#111" stroke-width="1"/>
<line x1="268.00" y1="464.40" x2="268.00" y2="467.40" stroke="#111" stroke-width="1"/>
<line x1="279.50" y1="464.40" x2="279.50" y2="467.40" stroke="#111" stroke-width="1"/>
<line x1="202.50" y1="389.00" x2="233.60" y2="389.20" stroke="#111" stroke-width="1.25"/>
<text transform="translate(217.80,387.10)" x="-3.15" y="0" font-size="7.8" textLength="6.30" lengthAdjust="spacingAndGlyphs" fill="#1a1a1a">#5</text>
<line x1="248.00" y1="389.00" x2="279.80" y2="389.20" stroke="#111" stroke-width="1.25"/>
<text transform="translate(264.00,387.10)" x="-3.15" y="0" font-size="7.8" textLength="6.30" lengthAdjust="spacingAndGlyphs" fill="#1a1a1a">#6</text>
<path d="M198.50,401.80V399.20H221.80V401.80" fill="none" stroke="#1a1a1a" stroke-width="1.0"/>
<text transform="translate(210.15,400.50)" x="-4.20" y="0" font-size="6.6" textLength="8.40" lengthAdjust="spacingAndGlyphs" fill="#111" stroke="none">***</text>
<path d="M198.50,408.40V405.80H210.20V408.40" fill="none" stroke="#1a1a1a" stroke-width="1.0"/>
<text transform="translate(204.35,407.10)" x="-2.80" y="0" font-size="6.6" textLength="5.60" lengthAdjust="spacingAndGlyphs" fill="#111" stroke="none">**</text>
<path d="M210.20,422.20V419.60H233.20V422.20" fill="none" stroke="#1a1a1a" stroke-width="1.0"/>
<text transform="translate(221.70,420.90)" x="-1.40" y="0" font-size="6.6" textLength="2.80" lengthAdjust="spacingAndGlyphs" fill="#111" stroke="none">*</text>
<path d="M244.60,398.20V395.60H268.00V398.20" fill="none" stroke="#1a1a1a" stroke-width="1.0"/>
<text transform="translate(256.30,396.90)" x="-5.60" y="0" font-size="6.6" textLength="11.20" lengthAdjust="spacingAndGlyphs" fill="#111" stroke="none">****</text>
<path d="M244.60,405.80V403.20H256.40V405.80" fill="none" stroke="#1a1a1a" stroke-width="1.0"/>
<text transform="translate(250.50,404.50)" x="-5.60" y="0" font-size="6.6" textLength="11.20" lengthAdjust="spacingAndGlyphs" fill="#111" stroke="none">****</text>
<path d="M256.40,419.90V417.30H279.50V419.90" fill="none" stroke="#1a1a1a" stroke-width="1.0"/>
<text transform="translate(267.95,418.60)" x="-4.20" y="0" font-size="6.6" textLength="8.40" lengthAdjust="spacingAndGlyphs" fill="#111" stroke="none">***</text>
<circle cx="195.50" cy="410.20" r="1.40" fill="#A5052D"/>
<circle cx="197.70" cy="409.80" r="1.40" fill="#A5052D"/>
<circle cx="201.90" cy="410.20" r="1.40" fill="#A5052D"/>
<circle cx="196.10" cy="413.20" r="1.40" fill="#A5052D"/>
<circle cx="198.50" cy="414.20" r="1.40" fill="#A5052D"/>
<circle cx="200.50" cy="413.80" r="1.40" fill="#A5052D"/>
<line x1="198.50" y1="413.00" x2="198.50" y2="409.80" stroke="#111" stroke-width="1.05"/>
<line x1="196.10" y1="413.50" x2="200.90" y2="413.50" stroke="#111" stroke-width="1.0"/>
<line x1="196.10" y1="409.50" x2="200.90" y2="409.50" stroke="#111" stroke-width="1.0"/>
<line x1="194.10" y1="411.50" x2="202.90" y2="411.50" stroke="#111" stroke-width="1.05"/>
<rect x="208.40" y="423.90" width="2.80" height="2.80" fill="#A5052D"/>
<rect x="206.80" y="430.00" width="2.80" height="2.80" fill="#A5052D"/>
<rect x="210.80" y="430.00" width="2.80" height="2.80" fill="#A5052D"/>
<rect x="206.80" y="448.80" width="2.80" height="2.80" fill="#A5052D"/>
<rect x="210.40" y="447.60" width="2.80" height="2.80" fill="#A5052D"/>
<line x1="210.50" y1="450.20" x2="210.50" y2="426.30" stroke="#111" stroke-width="1.05"/>
<line x1="207.80" y1="450.50" x2="212.60" y2="450.50" stroke="#111" stroke-width="1.0"/>
<line x1="207.80" y1="426.50" x2="212.60" y2="426.50" stroke="#111" stroke-width="1.0"/>
<line x1="205.80" y1="437.50" x2="214.60" y2="437.50" stroke="#111" stroke-width="1.05"/>
<path d="M221.80,423.69L223.34,426.49L220.26,426.49Z" fill="#A5052D"/>
<path d="M221.40,431.79L222.94,434.59L219.86,434.59Z" fill="#A5052D"/>
<path d="M220.40,446.99L221.94,449.79L218.86,449.79Z" fill="#A5052D"/>
<path d="M223.40,447.39L224.94,450.19L221.86,450.19Z" fill="#A5052D"/>
<line x1="221.50" y1="450.20" x2="221.50" y2="429.80" stroke="#111" stroke-width="1.05"/>
<line x1="219.40" y1="450.50" x2="224.20" y2="450.50" stroke="#111" stroke-width="1.0"/>
<line x1="219.40" y1="429.50" x2="224.20" y2="429.50" stroke="#111" stroke-width="1.0"/>
<line x1="217.40" y1="440.50" x2="226.20" y2="440.50" stroke="#111" stroke-width="1.05"/>
<path d="M232.80,447.11L234.34,444.31L231.26,444.31Z" fill="#A5052D"/>
<path d="M231.40,455.81L232.94,453.01L229.86,453.01Z" fill="#A5052D"/>
<path d="M233.60,458.21L235.14,455.41L232.06,455.41Z" fill="#A5052D"/>
<path d="M233.00,462.61L234.54,459.81L231.46,459.81Z" fill="#A5052D"/>
<line x1="233.50" y1="460.70" x2="233.50" y2="448.60" stroke="#111" stroke-width="1.05"/>
<line x1="230.80" y1="460.50" x2="235.60" y2="460.50" stroke="#111" stroke-width="1.0"/>
<line x1="230.80" y1="448.50" x2="235.60" y2="448.50" stroke="#111" stroke-width="1.0"/>
<line x1="228.80" y1="454.50" x2="237.60" y2="454.50" stroke="#111" stroke-width="1.05"/>
<circle cx="242.60" cy="407.20" r="1.40" fill="none" stroke="#2E4A80" stroke-width="0.9"/>
<circle cx="245.60" cy="408.60" r="1.40" fill="none" stroke="#2E4A80" stroke-width="0.9"/>
<circle cx="242.20" cy="411.80" r="1.40" fill="none" stroke="#2E4A80" stroke-width="0.9"/>
<circle cx="244.60" cy="412.60" r="1.40" fill="none" stroke="#2E4A80" stroke-width="0.9"/>
<circle cx="243.00" cy="415.20" r="1.40" fill="none" stroke="#2E4A80" stroke-width="0.9"/>
<circle cx="245.60" cy="416.20" r="1.40" fill="none" stroke="#2E4A80" stroke-width="0.9"/>
<line x1="244.50" y1="416.30" x2="244.50" y2="407.80" stroke="#111" stroke-width="1.05"/>
<line x1="242.20" y1="416.50" x2="247.00" y2="416.50" stroke="#111" stroke-width="1.0"/>
<line x1="242.20" y1="407.50" x2="247.00" y2="407.50" stroke="#111" stroke-width="1.0"/>
<line x1="240.20" y1="412.50" x2="249.00" y2="412.50" stroke="#111" stroke-width="1.05"/>
<rect x="255.00" y="427.00" width="2.80" height="2.80" fill="none" stroke="#2E4A80" stroke-width="0.9"/>
<rect x="253.00" y="433.40" width="2.80" height="2.80" fill="none" stroke="#2E4A80" stroke-width="0.9"/>
<rect x="257.80" y="437.10" width="2.80" height="2.80" fill="none" stroke="#2E4A80" stroke-width="0.9"/>
<rect x="256.40" y="440.60" width="2.80" height="2.80" fill="none" stroke="#2E4A80" stroke-width="0.9"/>
<rect x="253.40" y="443.10" width="2.80" height="2.80" fill="none" stroke="#2E4A80" stroke-width="0.9"/>
<line x1="256.50" y1="444.50" x2="256.50" y2="431.40" stroke="#111" stroke-width="1.05"/>
<line x1="254.00" y1="444.50" x2="258.80" y2="444.50" stroke="#111" stroke-width="1.0"/>
<line x1="254.00" y1="431.50" x2="258.80" y2="431.50" stroke="#111" stroke-width="1.0"/>
<line x1="252.00" y1="438.50" x2="260.80" y2="438.50" stroke="#111" stroke-width="1.05"/>
<path d="M269.60,430.79L271.14,433.59L268.06,433.59Z" fill="none" stroke="#2E4A80" stroke-width="0.9"/>
<path d="M265.00,435.19L266.54,437.99L263.46,437.99Z" fill="none" stroke="#2E4A80" stroke-width="0.9"/>
<path d="M268.00,441.39L269.54,444.19L266.46,444.19Z" fill="none" stroke="#2E4A80" stroke-width="0.9"/>
<path d="M268.60,445.39L270.14,448.19L267.06,448.19Z" fill="none" stroke="#2E4A80" stroke-width="0.9"/>
<path d="M270.00,437.89L271.54,440.69L268.46,440.69Z" fill="none" stroke="#2E4A80" stroke-width="0.9"/>
<line x1="268.50" y1="445.00" x2="268.50" y2="434.00" stroke="#111" stroke-width="1.05"/>
<line x1="265.60" y1="445.50" x2="270.40" y2="445.50" stroke="#111" stroke-width="1.0"/>
<line x1="265.60" y1="434.50" x2="270.40" y2="434.50" stroke="#111" stroke-width="1.0"/>
<line x1="263.60" y1="439.50" x2="272.40" y2="439.50" stroke="#111" stroke-width="1.05"/>
<path d="M279.30,454.01L280.84,451.21L277.76,451.21Z" fill="none" stroke="#2E4A80" stroke-width="0.9"/>
<path d="M277.50,457.61L279.04,454.81L275.96,454.81Z" fill="none" stroke="#2E4A80" stroke-width="0.9"/>
<path d="M281.30,457.81L282.84,455.01L279.76,455.01Z" fill="none" stroke="#2E4A80" stroke-width="0.9"/>
<path d="M279.50,461.01L281.04,458.21L277.96,458.21Z" fill="none" stroke="#2E4A80" stroke-width="0.9"/>
<path d="M279.70,459.21L281.24,456.41L278.16,456.41Z" fill="none" stroke="#2E4A80" stroke-width="0.9"/>
<line x1="279.50" y1="459.70" x2="279.50" y2="450.20" stroke="#111" stroke-width="1.05"/>
<line x1="277.10" y1="459.50" x2="281.90" y2="459.50" stroke="#111" stroke-width="1.0"/>
<line x1="277.10" y1="450.50" x2="281.90" y2="450.50" stroke="#111" stroke-width="1.0"/>
<line x1="275.10" y1="456.50" x2="283.90" y2="456.50" stroke="#111" stroke-width="1.05"/>
<text transform="translate(200.80,475.91) rotate(-45)" x="-19.50" y="0" font-size="6.9" textLength="19.50" lengthAdjust="spacingAndGlyphs" fill="#1a1a1a">Vehicle</text>
<text transform="translate(212.50,475.91) rotate(-45)" x="-23.03" y="0" font-size="6.9" textLength="23.03" lengthAdjust="spacingAndGlyphs" fill="#1a1a1a">PKC412</text>
<text transform="translate(224.10,475.91) rotate(-45)" x="-19.21" y="0" font-size="6.9" textLength="19.21" lengthAdjust="spacingAndGlyphs" fill="#1a1a1a">MS023</text>
<text transform="translate(235.50,475.91) rotate(-45)" x="-49.90" y="0" font-size="6.9" textLength="49.90" lengthAdjust="spacingAndGlyphs" fill="#1a1a1a">PKC412+MS023</text>
<text transform="translate(246.90,475.91) rotate(-45)" x="-19.50" y="0" font-size="6.9" textLength="19.50" lengthAdjust="spacingAndGlyphs" fill="#1a1a1a">Vehicle</text>
<text transform="translate(258.70,475.91) rotate(-45)" x="-23.03" y="0" font-size="6.9" textLength="23.03" lengthAdjust="spacingAndGlyphs" fill="#1a1a1a">PKC412</text>
<text transform="translate(270.30,475.91) rotate(-45)" x="-19.21" y="0" font-size="6.9" textLength="19.21" lengthAdjust="spacingAndGlyphs" fill="#1a1a1a">MS023</text>
<text transform="translate(281.80,475.91) rotate(-45)" x="-49.90" y="0" font-size="6.9" textLength="49.90" lengthAdjust="spacingAndGlyphs" fill="#1a1a1a">PKC412+MS023</text>
<text transform="translate(299.80,361.80)" x="0.00" y="0" font-size="12.8" font-weight="bold" textLength="9.98" lengthAdjust="spacingAndGlyphs" fill="#000">H</text>
<text transform="translate(382.30,373.80)" x="-5.90" y="0" font-size="9" textLength="11.80" lengthAdjust="spacingAndGlyphs" fill="#1a1a1a">PB</text>
<line x1="331.00" y1="394.10" x2="331.00" y2="464.90" stroke="#111" stroke-width="1.2"/>
<line x1="327.50" y1="464.35" x2="331.00" y2="464.35" stroke="#111" stroke-width="1.1"/>
<text transform="translate(324.20,466.76)" x="-9.10" y="0" font-size="6.7" textLength="9.10" lengthAdjust="spacingAndGlyphs" fill="#1a1a1a">-10</text>
<line x1="327.50" y1="450.80" x2="331.00" y2="450.80" stroke="#111" stroke-width="1.1"/>
<text transform="translate(324.20,453.21)" x="-3.50" y="0" font-size="6.7" textLength="3.50" lengthAdjust="spacingAndGlyphs" fill="#1a1a1a">0</text>
<line x1="327.50" y1="437.25" x2="331.00" y2="437.25" stroke="#111" stroke-width="1.1"/>
<text transform="translate(324.20,439.66)" x="-7.00" y="0" font-size="6.7" textLength="7.00" lengthAdjust="spacingAndGlyphs" fill="#1a1a1a">10</text>
<line x1="327.50" y1="423.70" x2="331.00" y2="423.70" stroke="#111" stroke-width="1.1"/>
<text transform="translate(324.20,426.11)" x="-7.00" y="0" font-size="6.7" textLength="7.00" lengthAdjust="spacingAndGlyphs" fill="#1a1a1a">20</text>
<line x1="327.50" y1="410.15" x2="331.00" y2="410.15" stroke="#111" stroke-width="1.1"/>
<text transform="translate(324.20,412.56)" x="-7.00" y="0" font-size="6.7" textLength="7.00" lengthAdjust="spacingAndGlyphs" fill="#1a1a1a">30</text>
<line x1="327.50" y1="396.60" x2="331.00" y2="396.60" stroke="#111" stroke-width="1.1"/>
<text transform="translate(324.20,399.01)" x="-7.00" y="0" font-size="6.7" textLength="7.00" lengthAdjust="spacingAndGlyphs" fill="#1a1a1a">40</text>
<line x1="328.00" y1="464.40" x2="431.30" y2="464.40" stroke="#111" stroke-width="1.1"/>
<g transform="translate(311.00,430.00) rotate(-90)">
<text x="-30.20" y="0.00" font-size="8.4" textLength="27.60" lengthAdjust="spacingAndGlyphs" fill="#1a1a1a">%hCD45</text>
<text x="-1.80" y="-3.20" font-size="5" textLength="2.60" lengthAdjust="spacingAndGlyphs" fill="#1a1a1a">+</text>
<text x="3.70" y="0.00" font-size="8.4" textLength="23.80" lengthAdjust="spacingAndGlyphs" fill="#1a1a1a">hCD19</text>
<text x="27.80" y="-3.20" font-size="5" textLength="2.60" lengthAdjust="spacingAndGlyphs" fill="#1a1a1a">+</text>
</g>
<line x1="339.60" y1="464.40" x2="339.60" y2="467.40" stroke="#111" stroke-width="1"/>
<line x1="351.90" y1="464.40" x2="351.90" y2="467.40" stroke="#111" stroke-width="1"/>
<line x1="364.20" y1="464.40" x2="364.20" y2="467.40" stroke="#111" stroke-width="1"/>
<line x1="376.30" y1="464.40" x2="376.30" y2="467.40" stroke="#111" stroke-width="1"/>
<line x1="388.40" y1="464.40" x2="388.40" y2="467.40" stroke="#111" stroke-width="1"/>
<line x1="400.60" y1="464.40" x2="400.60" y2="467.40" stroke="#111" stroke-width="1"/>
<line x1="412.80" y1="464.40" x2="412.80" y2="467.40" stroke="#111" stroke-width="1"/>
<line x1="425.00" y1="464.40" x2="425.00" y2="467.40" stroke="#111" stroke-width="1"/>
<line x1="343.40" y1="385.20" x2="377.00" y2="385.20" stroke="#111" stroke-width="1.25"/>
<text transform="translate(360.00,383.50)" x="-3.15" y="0" font-size="7.8" textLength="6.30" lengthAdjust="spacingAndGlyphs" fill="#1a1a1a">#5</text>
<line x1="391.50" y1="385.20" x2="425.00" y2="385.20" stroke="#111" stroke-width="1.25"/>
<text transform="translate(408.30,383.50)" x="-3.15" y="0" font-size="7.8" textLength="6.30" lengthAdjust="spacingAndGlyphs" fill="#1a1a1a">#6</text>
<path d="M339.60,395.00V392.40H364.20V395.00" fill="none" stroke="#1a1a1a" stroke-width="1.0"/>
<text transform="translate(351.90,393.70)" x="-5.60" y="0" font-size="6.6" textLength="11.20" lengthAdjust="spacingAndGlyphs" fill="#111" stroke="none">****</text>
<path d="M339.60,401.80V399.20H351.90V401.80" fill="none" stroke="#1a1a1a" stroke-width="1.0"/>
<text transform="translate(345.75,400.50)" x="-5.60" y="0" font-size="6.6" textLength="11.20" lengthAdjust="spacingAndGlyphs" fill="#111" stroke="none">****</text>
<path d="M351.90,428.00V425.40H376.30V428.00" fill="none" stroke="#1a1a1a" stroke-width="1.0"/>
<text transform="translate(364.10,426.70)" x="-5.60" y="0" font-size="6.6" textLength="11.20" lengthAdjust="spacingAndGlyphs" fill="#111" stroke="none">****</text>
<path d="M388.40,395.00V392.40H412.80V395.00" fill="none" stroke="#1a1a1a" stroke-width="1.0"/>
<text transform="translate(400.60,393.70)" x="-5.60" y="0" font-size="6.6" textLength="11.20" lengthAdjust="spacingAndGlyphs" fill="#111" stroke="none">****</text>
<path d="M388.40,401.80V399.20H400.60V401.80" fill="none" stroke="#1a1a1a" stroke-width="1.0"/>
<text transform="translate(394.50,400.50)" x="-5.60" y="0" font-size="6.6" textLength="11.20" lengthAdjust="spacingAndGlyphs" fill="#111" stroke="none">****</text>
<path d="M400.60,429.00V426.40H425.00V429.00" fill="none" stroke="#1a1a1a" stroke-width="1.0"/>
<text transform="translate(412.80,427.70)" x="-5.60" y="0" font-size="6.6" textLength="11.20" lengthAdjust="spacingAndGlyphs" fill="#111" stroke="none">****</text>
<circle cx="339.60" cy="404.20" r="1.40" fill="#A5052D"/>
<circle cx="337.00" cy="410.80" r="1.40" fill="#A5052D"/>
<circle cx="340.40" cy="411.20" r="1.40" fill="#A5052D"/>
<circle cx="343.00" cy="410.80" r="1.40" fill="#A5052D"/>
<circle cx="337.60" cy="416.30" r="1.40" fill="#A5052D"/>
<circle cx="341.00" cy="414.30" r="1.40" fill="#A5052D"/>
<line x1="339.50" y1="415.30" x2="339.50" y2="405.80" stroke="#111" stroke-width="1.05"/>
<line x1="337.20" y1="415.50" x2="342.00" y2="415.50" stroke="#111" stroke-width="1.0"/>
<line x1="337.20" y1="405.50" x2="342.00" y2="405.50" stroke="#111" stroke-width="1.0"/>
<line x1="335.20" y1="410.50" x2="344.00" y2="410.50" stroke="#111" stroke-width="1.05"/>
<rect x="348.50" y="428.00" width="2.80" height="2.80" fill="#A5052D"/>
<rect x="351.90" y="430.40" width="2.80" height="2.80" fill="#A5052D"/>
<rect x="347.90" y="433.10" width="2.80" height="2.80" fill="#A5052D"/>
<rect x="352.50" y="435.10" width="2.80" height="2.80" fill="#A5052D"/>
<rect x="350.50" y="437.10" width="2.80" height="2.80" fill="#A5052D"/>
<line x1="351.50" y1="437.90" x2="351.50" y2="430.40" stroke="#111" stroke-width="1.05"/>
<line x1="349.50" y1="437.50" x2="354.30" y2="437.50" stroke="#111" stroke-width="1.0"/>
<line x1="349.50" y1="430.50" x2="354.30" y2="430.50" stroke="#111" stroke-width="1.0"/>
<line x1="347.50" y1="434.50" x2="356.30" y2="434.50" stroke="#111" stroke-width="1.05"/>
<path d="M363.00,440.89L364.54,443.69L361.46,443.69Z" fill="#A5052D"/>
<path d="M365.60,442.99L367.14,445.79L364.06,445.79Z" fill="#A5052D"/>
<path d="M361.60,443.99L363.14,446.79L360.06,446.79Z" fill="#A5052D"/>
<path d="M364.60,447.59L366.14,450.39L363.06,450.39Z" fill="#A5052D"/>
<line x1="364.50" y1="449.20" x2="364.50" y2="442.50" stroke="#111" stroke-width="1.05"/>
<line x1="361.80" y1="449.50" x2="366.60" y2="449.50" stroke="#111" stroke-width="1.0"/>
<line x1="361.80" y1="442.50" x2="366.60" y2="442.50" stroke="#111" stroke-width="1.0"/>
<line x1="359.80" y1="445.50" x2="368.60" y2="445.50" stroke="#111" stroke-width="1.05"/>
<path d="M373.90,451.25L375.00,449.25L372.80,449.25Z" fill="#A5052D"/>
<path d="M375.50,451.45L376.60,449.45L374.40,449.45Z" fill="#A5052D"/>
<path d="M377.10,451.45L378.20,449.45L376.00,449.45Z" fill="#A5052D"/>
<path d="M378.50,451.35L379.60,449.35L377.40,449.35Z" fill="#A5052D"/>
<line x1="372.90" y1="450.50" x2="379.70" y2="450.50" stroke="#111" stroke-width="1.05"/>
<circle cx="390.40" cy="400.80" r="1.40" fill="none" stroke="#2E4A80" stroke-width="0.9"/>
<circle cx="386.80" cy="403.20" r="1.40" fill="none" stroke="#2E4A80" stroke-width="0.9"/>
<circle cx="385.80" cy="409.20" r="1.40" fill="none" stroke="#2E4A80" stroke-width="0.9"/>
<circle cx="390.40" cy="410.20" r="1.40" fill="none" stroke="#2E4A80" stroke-width="0.9"/>
<circle cx="388.80" cy="416.30" r="1.40" fill="none" stroke="#2E4A80" stroke-width="0.9"/>
<circle cx="388.40" cy="419.30" r="1.40" fill="none" stroke="#2E4A80" stroke-width="0.9"/>
<line x1="388.50" y1="416.30" x2="388.50" y2="401.60" stroke="#111" stroke-width="1.05"/>
<line x1="386.00" y1="416.50" x2="390.80" y2="416.50" stroke="#111" stroke-width="1.0"/>
<line x1="386.00" y1="401.50" x2="390.80" y2="401.50" stroke="#111" stroke-width="1.0"/>
<line x1="384.00" y1="409.50" x2="392.80" y2="409.50" stroke="#111" stroke-width="1.05"/>
<rect x="397.20" y="431.60" width="2.80" height="2.80" fill="none" stroke="#2E4A80" stroke-width="0.9"/>
<rect x="401.60" y="432.10" width="2.80" height="2.80" fill="none" stroke="#2E4A80" stroke-width="0.9"/>
<rect x="396.60" y="435.10" width="2.80" height="2.80" fill="none" stroke="#2E4A80" stroke-width="0.9"/>
<rect x="401.20" y="435.70" width="2.80" height="2.80" fill="none" stroke="#2E4A80" stroke-width="0.9"/>
<rect x="397.60" y="437.70" width="2.80" height="2.80" fill="none" stroke="#2E4A80" stroke-width="0.9"/>
<line x1="400.50" y1="439.10" x2="400.50" y2="431.80" stroke="#111" stroke-width="1.05"/>
<line x1="398.20" y1="439.50" x2="403.00" y2="439.50" stroke="#111" stroke-width="1.0"/>
<line x1="398.20" y1="431.50" x2="403.00" y2="431.50" stroke="#111" stroke-width="1.0"/>
<line x1="396.20" y1="435.50" x2="405.00" y2="435.50" stroke="#111" stroke-width="1.05"/>
<path d="M412.80,428.79L414.34,431.59L411.26,431.59Z" fill="none" stroke="#2E4A80" stroke-width="0.9"/>
<path d="M411.20,436.29L412.74,439.09L409.66,439.09Z" fill="none" stroke="#2E4A80" stroke-width="0.9"/>
<path d="M415.20,436.89L416.74,439.69L413.66,439.69Z" fill="none" stroke="#2E4A80" stroke-width="0.9"/>
<path d="M413.20,439.89L414.74,442.69L411.66,442.69Z" fill="none" stroke="#2E4A80" stroke-width="0.9"/>
<line x1="412.50" y1="442.60" x2="412.50" y2="433.50" stroke="#111" stroke-width="1.05"/>
<line x1="410.40" y1="442.50" x2="415.20" y2="442.50" stroke="#111" stroke-width="1.0"/>
<line x1="410.40" y1="433.50" x2="415.20" y2="433.50" stroke="#111" stroke-width="1.0"/>
<line x1="408.40" y1="438.50" x2="417.20" y2="438.50" stroke="#111" stroke-width="1.05"/>
<path d="M423.00,447.61L424.54,444.81L421.46,444.81Z" fill="none" stroke="#2E4A80" stroke-width="0.9"/>
<path d="M427.00,448.21L428.54,445.41L425.46,445.41Z" fill="none" stroke="#2E4A80" stroke-width="0.9"/>
<path d="M424.60,450.21L426.14,447.41L423.06,447.41Z" fill="none" stroke="#2E4A80" stroke-width="0.9"/>
<path d="M426.00,451.21L427.54,448.41L424.46,448.41Z" fill="none" stroke="#2E4A80" stroke-width="0.9"/>
<path d="M424.00,449.01L425.54,446.21L422.46,446.21Z" fill="none" stroke="#2E4A80" stroke-width="0.9"/>
<line x1="425.50" y1="449.20" x2="425.50" y2="446.00" stroke="#111" stroke-width="1.05"/>
<line x1="422.60" y1="449.50" x2="427.40" y2="449.50" stroke="#111" stroke-width="1.0"/>
<line x1="422.60" y1="446.50" x2="427.40" y2="446.50" stroke="#111" stroke-width="1.0"/>
<line x1="420.60" y1="447.50" x2="429.40" y2="447.50" stroke="#111" stroke-width="1.05"/>
<text transform="translate(341.90,475.91) rotate(-45)" x="-19.50" y="0" font-size="6.9" textLength="19.50" lengthAdjust="spacingAndGlyphs" fill="#1a1a1a">Vehicle</text>
<text transform="translate(354.20,475.91) rotate(-45)" x="-23.03" y="0" font-size="6.9" textLength="23.03" lengthAdjust="spacingAndGlyphs" fill="#1a1a1a">PKC412</text>
<text transform="translate(366.50,475.91) rotate(-45)" x="-19.21" y="0" font-size="6.9" textLength="19.21" lengthAdjust="spacingAndGlyphs" fill="#1a1a1a">MS023</text>
<text transform="translate(378.60,475.91) rotate(-45)" x="-49.90" y="0" font-size="6.9" textLength="49.90" lengthAdjust="spacingAndGlyphs" fill="#1a1a1a">PKC412+MS023</text>
<text transform="translate(390.70,475.91) rotate(-45)" x="-19.50" y="0" font-size="6.9" textLength="19.50" lengthAdjust="spacingAndGlyphs" fill="#1a1a1a">Vehicle</text>
<text transform="translate(402.90,475.91) rotate(-45)" x="-23.03" y="0" font-size="6.9" textLength="23.03" lengthAdjust="spacingAndGlyphs" fill="#1a1a1a">PKC412</text>
<text transform="translate(415.10,475.91) rotate(-45)" x="-19.21" y="0" font-size="6.9" textLength="19.21" lengthAdjust="spacingAndGlyphs" fill="#1a1a1a">MS023</text>
<text transform="translate(427.30,475.91) rotate(-45)" x="-49.90" y="0" font-size="6.9" textLength="49.90" lengthAdjust="spacingAndGlyphs" fill="#1a1a1a">PKC412+MS023</text>
<text transform="translate(7.40,538.60)" x="0.00" y="0" font-size="12.8" font-weight="bold" textLength="4.27" lengthAdjust="spacingAndGlyphs" fill="#000">I</text>
<text transform="translate(74.40,550.60)" x="-26.90" y="0" font-size="9" textLength="53.80" lengthAdjust="spacingAndGlyphs" fill="#1a1a1a">2nd-BMT BM</text>
<line x1="40.80" y1="562.10" x2="40.80" y2="620.10" stroke="#111" stroke-width="1.2"/>
<line x1="37.30" y1="619.60" x2="40.80" y2="619.60" stroke="#111" stroke-width="1.1"/>
<text transform="translate(34.00,622.01)" x="-3.50" y="0" font-size="6.7" textLength="3.50" lengthAdjust="spacingAndGlyphs" fill="#1a1a1a">0</text>
<line x1="37.30" y1="606.00" x2="40.80" y2="606.00" stroke="#111" stroke-width="1.1"/>
<text transform="translate(34.00,608.41)" x="-7.00" y="0" font-size="6.7" textLength="7.00" lengthAdjust="spacingAndGlyphs" fill="#1a1a1a">30</text>
<line x1="37.30" y1="592.30" x2="40.80" y2="592.30" stroke="#111" stroke-width="1.1"/>
<text transform="translate(34.00,594.71)" x="-7.00" y="0" font-size="6.7" textLength="7.00" lengthAdjust="spacingAndGlyphs" fill="#1a1a1a">60</text>
<line x1="37.30" y1="578.50" x2="40.80" y2="578.50" stroke="#111" stroke-width="1.1"/>
<text transform="translate(34.00,580.91)" x="-7.00" y="0" font-size="6.7" textLength="7.00" lengthAdjust="spacingAndGlyphs" fill="#1a1a1a">90</text>
<line x1="37.30" y1="564.60" x2="40.80" y2="564.60" stroke="#111" stroke-width="1.1"/>
<text transform="translate(34.00,567.01)" x="-10.51" y="0" font-size="6.7" textLength="10.51" lengthAdjust="spacingAndGlyphs" fill="#1a1a1a">120</text>
<line x1="37.80" y1="619.60" x2="107.50" y2="619.60" stroke="#111" stroke-width="1.1"/>
<g transform="translate(18.40,592.50) rotate(-90)">
<text x="-30.20" y="0.00" font-size="8.4" textLength="27.60" lengthAdjust="spacingAndGlyphs" fill="#1a1a1a">%hCD45</text>
<text x="-1.80" y="-3.20" font-size="5" textLength="2.60" lengthAdjust="spacingAndGlyphs" fill="#1a1a1a">+</text>
<text x="3.70" y="0.00" font-size="8.4" textLength="23.80" lengthAdjust="spacingAndGlyphs" fill="#1a1a1a">hCD19</text>
<text x="27.80" y="-3.20" font-size="5" textLength="2.60" lengthAdjust="spacingAndGlyphs" fill="#1a1a1a">+</text>
</g>
<line x1="51.60" y1="619.60" x2="51.60" y2="622.60" stroke="#111" stroke-width="1"/>
<line x1="67.80" y1="619.60" x2="67.80" y2="622.60" stroke="#111" stroke-width="1"/>
<line x1="84.00" y1="619.60" x2="84.00" y2="622.60" stroke="#111" stroke-width="1"/>
<line x1="100.30" y1="619.60" x2="100.30" y2="622.60" stroke="#111" stroke-width="1"/>
<path d="M51.60,562.80V560.20H100.30V562.80" fill="none" stroke="#1a1a1a" stroke-width="1.0"/>
<text transform="translate(75.95,561.50)" x="-5.60" y="0" font-size="6.6" textLength="11.20" lengthAdjust="spacingAndGlyphs" fill="#111" stroke="none">****</text>
<path d="M51.60,569.10V566.50H84.00V569.10" fill="none" stroke="#1a1a1a" stroke-width="1.0"/>
<text transform="translate(67.80,567.80)" x="-2.80" y="0" font-size="6.6" textLength="5.60" lengthAdjust="spacingAndGlyphs" fill="#111" stroke="none">**</text>
<path d="M51.60,575.10V572.50H67.80V575.10" fill="none" stroke="#1a1a1a" stroke-width="1.0"/>
<text transform="translate(59.70,573.80)" x="-4.20" y="0" font-size="6.6" textLength="8.40" lengthAdjust="spacingAndGlyphs" fill="#111" stroke="none">***</text>
<circle cx="47.60" cy="577.60" r="1.20" fill="#A5052D"/>
<circle cx="51.60" cy="575.80" r="1.20" fill="#A5052D"/>
<circle cx="55.80" cy="577.30" r="1.20" fill="#A5052D"/>
<circle cx="50.10" cy="580.40" r="1.20" fill="#A5052D"/>
<circle cx="53.50" cy="580.40" r="1.20" fill="#A5052D"/>
<line x1="51.50" y1="580.00" x2="51.50" y2="576.00" stroke="#111" stroke-width="1.05"/>
<line x1="49.00" y1="580.50" x2="54.20" y2="580.50" stroke="#111" stroke-width="1.0"/>
<line x1="49.00" y1="576.50" x2="54.20" y2="576.50" stroke="#111" stroke-width="1.0"/>
<line x1="46.20" y1="577.50" x2="57.00" y2="577.50" stroke="#111" stroke-width="1.05"/>
<rect x="66.60" y="586.00" width="2.40" height="2.40" fill="#A5052D"/>
<rect x="63.30" y="588.00" width="2.40" height="2.40" fill="#A5052D"/>
<rect x="70.30" y="588.00" width="2.40" height="2.40" fill="#A5052D"/>
<rect x="66.60" y="590.60" width="2.40" height="2.40" fill="#A5052D"/>
<rect x="66.60" y="598.80" width="2.40" height="2.40" fill="#A5052D"/>
<line x1="67.50" y1="596.40" x2="67.50" y2="586.00" stroke="#111" stroke-width="1.05"/>
<line x1="65.20" y1="596.50" x2="70.40" y2="596.50" stroke="#111" stroke-width="1.0"/>
<line x1="65.20" y1="586.50" x2="70.40" y2="586.50" stroke="#111" stroke-width="1.0"/>
<line x1="62.40" y1="591.50" x2="73.20" y2="591.50" stroke="#111" stroke-width="1.05"/>
<path d="M81.20,588.12L82.52,590.52L79.88,590.52Z" fill="#A5052D"/>
<path d="M87.60,587.82L88.92,590.22L86.28,590.22Z" fill="#A5052D"/>
<path d="M83.00,600.82L84.32,603.22L81.68,603.22Z" fill="#A5052D"/>
<path d="M86.00,600.82L87.32,603.22L84.68,603.22Z" fill="#A5052D"/>
<line x1="84.50" y1="602.00" x2="84.50" y2="587.60" stroke="#111" stroke-width="1.05"/>
<line x1="81.40" y1="602.50" x2="86.60" y2="602.50" stroke="#111" stroke-width="1.0"/>
<line x1="81.40" y1="587.50" x2="86.60" y2="587.50" stroke="#111" stroke-width="1.0"/>
<line x1="78.60" y1="594.50" x2="89.40" y2="594.50" stroke="#111" stroke-width="1.05"/>
<path d="M100.40,607.88L101.72,605.48L99.08,605.48Z" fill="#A5052D"/>
<path d="M97.60,618.98L98.92,616.58L96.28,616.58Z" fill="#A5052D"/>
<path d="M100.40,619.98L101.72,617.58L99.08,617.58Z" fill="#A5052D"/>
<path d="M103.50,619.78L104.82,617.38L102.18,617.38Z" fill="#A5052D"/>
<path d="M100.40,616.68L101.72,614.28L99.08,614.28Z" fill="#A5052D"/>
<line x1="100.50" y1="619.40" x2="100.50" y2="610.40" stroke="#111" stroke-width="1.05"/>
<line x1="97.70" y1="619.50" x2="102.90" y2="619.50" stroke="#111" stroke-width="1.0"/>
<line x1="97.70" y1="610.50" x2="102.90" y2="610.50" stroke="#111" stroke-width="1.0"/>
<line x1="94.90" y1="615.50" x2="105.70" y2="615.50" stroke="#111" stroke-width="1.05"/>
<text transform="translate(54.90,630.96) rotate(-45)" x="-20.42" y="0" font-size="7" textLength="20.42" lengthAdjust="spacingAndGlyphs" fill="#1a1a1a">Vehicle</text>
<text transform="translate(71.10,630.96) rotate(-45)" x="-23.53" y="0" font-size="7" textLength="23.53" lengthAdjust="spacingAndGlyphs" fill="#1a1a1a">PKC412</text>
<text transform="translate(87.30,630.96) rotate(-45)" x="-20.27" y="0" font-size="7" textLength="20.27" lengthAdjust="spacingAndGlyphs" fill="#1a1a1a">MS023</text>
<text transform="translate(103.60,630.96) rotate(-45)" x="-49.83" y="0" font-size="7" textLength="49.83" lengthAdjust="spacingAndGlyphs" fill="#1a1a1a">PKC412+MS023</text>
<text transform="translate(121.00,538.60)" x="0.00" y="0" font-size="12.8" font-weight="bold" textLength="6.55" lengthAdjust="spacingAndGlyphs" fill="#000">J</text>
<text transform="translate(188.80,550.60)" x="-25.00" y="0" font-size="9" textLength="50.00" lengthAdjust="spacingAndGlyphs" fill="#1a1a1a">2nd BMT SP</text>
<line x1="154.30" y1="560.80" x2="154.30" y2="620.10" stroke="#111" stroke-width="1.2"/>
<line x1="150.80" y1="619.60" x2="154.30" y2="619.60" stroke="#111" stroke-width="1.1"/>
<text transform="translate(147.50,622.01)" x="-3.50" y="0" font-size="6.7" textLength="3.50" lengthAdjust="spacingAndGlyphs" fill="#1a1a1a">0</text>
<line x1="150.80" y1="608.40" x2="154.30" y2="608.40" stroke="#111" stroke-width="1.1"/>
<text transform="translate(147.50,610.81)" x="-7.00" y="0" font-size="6.7" textLength="7.00" lengthAdjust="spacingAndGlyphs" fill="#1a1a1a">20</text>
<line x1="150.80" y1="597.20" x2="154.30" y2="597.20" stroke="#111" stroke-width="1.1"/>
<text transform="translate(147.50,599.61)" x="-7.00" y="0" font-size="6.7" textLength="7.00" lengthAdjust="spacingAndGlyphs" fill="#1a1a1a">40</text>
<line x1="150.80" y1="585.90" x2="154.30" y2="585.90" stroke="#111" stroke-width="1.1"/>
<text transform="translate(147.50,588.31)" x="-7.00" y="0" font-size="6.7" textLength="7.00" lengthAdjust="spacingAndGlyphs" fill="#1a1a1a">60</text>
<line x1="150.80" y1="574.60" x2="154.30" y2="574.60" stroke="#111" stroke-width="1.1"/>
<text transform="translate(147.50,577.01)" x="-7.00" y="0" font-size="6.7" textLength="7.00" lengthAdjust="spacingAndGlyphs" fill="#1a1a1a">80</text>
<line x1="150.80" y1="563.30" x2="154.30" y2="563.30" stroke="#111" stroke-width="1.1"/>
<text transform="translate(147.50,565.71)" x="-10.51" y="0" font-size="6.7" textLength="10.51" lengthAdjust="spacingAndGlyphs" fill="#1a1a1a">100</text>
<line x1="151.30" y1="619.60" x2="224.20" y2="619.60" stroke="#111" stroke-width="1.1"/>
<g transform="translate(131.30,592.50) rotate(-90)">
<text x="-30.20" y="0.00" font-size="8.4" textLength="27.60" lengthAdjust="spacingAndGlyphs" fill="#1a1a1a">%hCD45</text>
<text x="-1.80" y="-3.20" font-size="5" textLength="2.60" lengthAdjust="spacingAndGlyphs" fill="#1a1a1a">+</text>
<text x="3.70" y="0.00" font-size="8.4" textLength="23.80" lengthAdjust="spacingAndGlyphs" fill="#1a1a1a">hCD19</text>
<text x="27.80" y="-3.20" font-size="5" textLength="2.60" lengthAdjust="spacingAndGlyphs" fill="#1a1a1a">+</text>
</g>
<line x1="164.60" y1="619.60" x2="164.60" y2="622.60" stroke="#111" stroke-width="1"/>
<line x1="180.80" y1="619.60" x2="180.80" y2="622.60" stroke="#111" stroke-width="1"/>
<line x1="196.90" y1="619.60" x2="196.90" y2="622.60" stroke="#111" stroke-width="1"/>
<line x1="213.00" y1="619.60" x2="213.00" y2="622.60" stroke="#111" stroke-width="1"/>
<path d="M164.60,565.90V563.30H213.00V565.90" fill="none" stroke="#1a1a1a" stroke-width="1.0"/>
<text transform="translate(188.80,564.60)" x="-5.60" y="0" font-size="6.6" textLength="11.20" lengthAdjust="spacingAndGlyphs" fill="#111" stroke="none">****</text>
<path d="M164.60,571.80V569.20H196.90V571.80" fill="none" stroke="#1a1a1a" stroke-width="1.0"/>
<text transform="translate(180.75,570.50)" x="-2.80" y="0" font-size="6.6" textLength="5.60" lengthAdjust="spacingAndGlyphs" fill="#111" stroke="none">**</text>
<path d="M164.60,578.20V575.60H180.80V578.20" fill="none" stroke="#1a1a1a" stroke-width="1.0"/>
<text transform="translate(172.70,576.90)" x="-2.80" y="0" font-size="6.6" textLength="5.60" lengthAdjust="spacingAndGlyphs" fill="#111" stroke="none">**</text>
<circle cx="163.10" cy="577.90" r="1.20" fill="#A5052D"/>
<circle cx="161.10" cy="582.20" r="1.20" fill="#A5052D"/>
<circle cx="168.00" cy="581.90" r="1.20" fill="#A5052D"/>
<circle cx="164.60" cy="584.50" r="1.20" fill="#A5052D"/>
<circle cx="167.70" cy="584.20" r="1.20" fill="#A5052D"/>
<circle cx="166.20" cy="580.40" r="1.20" fill="#A5052D"/>
<line x1="164.50" y1="584.20" x2="164.50" y2="580.00" stroke="#111" stroke-width="1.05"/>
<line x1="162.00" y1="584.50" x2="167.20" y2="584.50" stroke="#111" stroke-width="1.0"/>
<line x1="162.00" y1="580.50" x2="167.20" y2="580.50" stroke="#111" stroke-width="1.0"/>
<line x1="159.20" y1="581.50" x2="170.00" y2="581.50" stroke="#111" stroke-width="1.05"/>
<rect x="183.30" y="587.50" width="2.40" height="2.40" fill="#A5052D"/>
<rect x="176.30" y="589.50" width="2.40" height="2.40" fill="#A5052D"/>
<rect x="179.90" y="590.30" width="2.40" height="2.40" fill="#A5052D"/>
<rect x="181.40" y="596.10" width="2.40" height="2.40" fill="#A5052D"/>
<rect x="178.00" y="598.00" width="2.40" height="2.40" fill="#A5052D"/>
<line x1="180.50" y1="598.40" x2="180.50" y2="589.50" stroke="#111" stroke-width="1.05"/>
<line x1="178.20" y1="598.50" x2="183.40" y2="598.50" stroke="#111" stroke-width="1.0"/>
<line x1="178.20" y1="589.50" x2="183.40" y2="589.50" stroke="#111" stroke-width="1.0"/>
<line x1="175.40" y1="593.50" x2="186.20" y2="593.50" stroke="#111" stroke-width="1.05"/>
<path d="M195.40,588.82L196.72,591.22L194.08,591.22Z" fill="#A5052D"/>
<path d="M198.80,589.32L200.12,591.72L197.48,591.72Z" fill="#A5052D"/>
<path d="M196.90,596.22L198.22,598.62L195.58,598.62Z" fill="#A5052D"/>
<path d="M196.90,602.42L198.22,604.82L195.58,604.82Z" fill="#A5052D"/>
<path d="M196.90,610.12L198.22,612.52L195.58,612.52Z" fill="#A5052D"/>
<line x1="196.50" y1="607.30" x2="196.50" y2="590.00" stroke="#111" stroke-width="1.05"/>
<line x1="194.30" y1="607.50" x2="199.50" y2="607.50" stroke="#111" stroke-width="1.0"/>
<line x1="194.30" y1="590.50" x2="199.50" y2="590.50" stroke="#111" stroke-width="1.0"/>
<line x1="191.50" y1="598.50" x2="202.30" y2="598.50" stroke="#111" stroke-width="1.05"/>
<path d="M212.90,615.48L214.22,613.08L211.58,613.08Z" fill="#A5052D"/>
<path d="M209.50,618.98L210.82,616.58L208.18,616.58Z" fill="#A5052D"/>
<path d="M216.50,618.98L217.82,616.58L215.18,616.58Z" fill="#A5052D"/>
<path d="M212.90,619.98L214.22,617.58L211.58,617.58Z" fill="#A5052D"/>
<line x1="213.50" y1="619.40" x2="213.50" y2="615.60" stroke="#111" stroke-width="1.05"/>
<line x1="210.40" y1="619.50" x2="215.60" y2="619.50" stroke="#111" stroke-width="1.0"/>
<line x1="210.40" y1="615.50" x2="215.60" y2="615.50" stroke="#111" stroke-width="1.0"/>
<line x1="207.60" y1="617.50" x2="218.40" y2="617.50" stroke="#111" stroke-width="1.05"/>
<text transform="translate(167.90,630.96) rotate(-45)" x="-20.42" y="0" font-size="7" textLength="20.42" lengthAdjust="spacingAndGlyphs" fill="#1a1a1a">Vehicle</text>
<text transform="translate(184.10,630.96) rotate(-45)" x="-23.53" y="0" font-size="7" textLength="23.53" lengthAdjust="spacingAndGlyphs" fill="#1a1a1a">PKC412</text>
<text transform="translate(200.20,630.96) rotate(-45)" x="-20.27" y="0" font-size="7" textLength="20.27" lengthAdjust="spacingAndGlyphs" fill="#1a1a1a">MS023</text>
<text transform="translate(216.30,630.96) rotate(-45)" x="-49.83" y="0" font-size="7" textLength="49.83" lengthAdjust="spacingAndGlyphs" fill="#1a1a1a">PKC412+MS023</text>
<text transform="translate(236.80,538.60)" x="0.00" y="0" font-size="12.8" font-weight="bold" fill="#000">K</text>
<text transform="translate(301.40,550.60)" x="-25.60" y="0" font-size="9" textLength="51.20" lengthAdjust="spacingAndGlyphs" fill="#1a1a1a">2nd-BMT PB</text>
<line x1="266.60" y1="562.00" x2="266.60" y2="620.10" stroke="#111" stroke-width="1.2"/>
<line x1="263.10" y1="619.60" x2="266.60" y2="619.60" stroke="#111" stroke-width="1.1"/>
<text transform="translate(259.80,622.01)" x="-3.50" y="0" font-size="6.7" textLength="3.50" lengthAdjust="spacingAndGlyphs" fill="#1a1a1a">0</text>
<line x1="263.10" y1="601.30" x2="266.60" y2="601.30" stroke="#111" stroke-width="1.1"/>
<text transform="translate(259.80,603.71)" x="-7.00" y="0" font-size="6.7" textLength="7.00" lengthAdjust="spacingAndGlyphs" fill="#1a1a1a">10</text>
<line x1="263.10" y1="582.90" x2="266.60" y2="582.90" stroke="#111" stroke-width="1.1"/>
<text transform="translate(259.80,585.31)" x="-7.00" y="0" font-size="6.7" textLength="7.00" lengthAdjust="spacingAndGlyphs" fill="#1a1a1a">20</text>
<line x1="263.10" y1="564.50" x2="266.60" y2="564.50" stroke="#111" stroke-width="1.1"/>
<text transform="translate(259.80,566.91)" x="-7.00" y="0" font-size="6.7" textLength="7.00" lengthAdjust="spacingAndGlyphs" fill="#1a1a1a">30</text>
<line x1="263.60" y1="619.60" x2="336.80" y2="619.60" stroke="#111" stroke-width="1.1"/>
<g transform="translate(245.60,592.50) rotate(-90)">
<text x="-30.20" y="0.00" font-size="8.4" textLength="27.60" lengthAdjust="spacingAndGlyphs" fill="#1a1a1a">%hCD45</text>
<text x="-1.80" y="-3.20" font-size="5" textLength="2.60" lengthAdjust="spacingAndGlyphs" fill="#1a1a1a">+</text>
<text x="3.70" y="0.00" font-size="8.4" textLength="23.80" lengthAdjust="spacingAndGlyphs" fill="#1a1a1a">hCD19</text>
<text x="27.80" y="-3.20" font-size="5" textLength="2.60" lengthAdjust="spacingAndGlyphs" fill="#1a1a1a">+</text>
</g>
<line x1="277.70" y1="619.60" x2="277.70" y2="622.60" stroke="#111" stroke-width="1"/>
<line x1="294.80" y1="619.60" x2="294.80" y2="622.60" stroke="#111" stroke-width="1"/>
<line x1="312.00" y1="619.60" x2="312.00" y2="622.60" stroke="#111" stroke-width="1"/>
<line x1="329.50" y1="619.60" x2="329.50" y2="622.60" stroke="#111" stroke-width="1"/>
<path d="M277.70,561.60V559.00H329.50V561.60" fill="none" stroke="#1a1a1a" stroke-width="1.0"/>
<text transform="translate(303.60,560.30)" x="-4.20" y="0" font-size="6.6" textLength="8.40" lengthAdjust="spacingAndGlyphs" fill="#111" stroke="none">***</text>
<path d="M277.70,567.80V565.20H312.00V567.80" fill="none" stroke="#1a1a1a" stroke-width="1.0"/>
<text transform="translate(294.85,566.50)" x="-4.20" y="0" font-size="6.6" textLength="8.40" lengthAdjust="spacingAndGlyphs" fill="#111" stroke="none">***</text>
<path d="M277.70,573.80V571.20H294.80V573.80" fill="none" stroke="#1a1a1a" stroke-width="1.0"/>
<text transform="translate(286.25,572.50)" x="-2.80" y="0" font-size="6.6" textLength="5.60" lengthAdjust="spacingAndGlyphs" fill="#111" stroke="none">**</text>
<circle cx="277.70" cy="574.20" r="1.20" fill="#A5052D"/>
<circle cx="277.70" cy="590.90" r="1.20" fill="#A5052D"/>
<circle cx="279.60" cy="593.00" r="1.20" fill="#A5052D"/>
<circle cx="276.30" cy="594.50" r="1.20" fill="#A5052D"/>
<line x1="277.50" y1="595.30" x2="277.50" y2="577.30" stroke="#111" stroke-width="1.05"/>
<line x1="275.10" y1="595.50" x2="280.30" y2="595.50" stroke="#111" stroke-width="1.0"/>
<line x1="275.10" y1="577.50" x2="280.30" y2="577.50" stroke="#111" stroke-width="1.0"/>
<line x1="272.30" y1="586.50" x2="283.10" y2="586.50" stroke="#111" stroke-width="1.05"/>
<rect x="293.60" y="596.70" width="2.40" height="2.40" fill="#A5052D"/>
<rect x="289.90" y="606.80" width="2.40" height="2.40" fill="#A5052D"/>
<rect x="297.50" y="606.00" width="2.40" height="2.40" fill="#A5052D"/>
<rect x="293.60" y="605.70" width="2.40" height="2.40" fill="#A5052D"/>
<rect x="293.60" y="612.50" width="2.40" height="2.40" fill="#A5052D"/>
<line x1="294.50" y1="613.40" x2="294.50" y2="601.50" stroke="#111" stroke-width="1.05"/>
<line x1="292.20" y1="613.50" x2="297.40" y2="613.50" stroke="#111" stroke-width="1.0"/>
<line x1="292.20" y1="601.50" x2="297.40" y2="601.50" stroke="#111" stroke-width="1.0"/>
<line x1="289.40" y1="607.50" x2="300.20" y2="607.50" stroke="#111" stroke-width="1.05"/>
<path d="M309.00,607.12L310.32,609.52L307.68,609.52Z" fill="#A5052D"/>
<path d="M315.60,607.42L316.92,609.82L314.28,609.82Z" fill="#A5052D"/>
<path d="M312.30,610.42L313.62,612.82L310.98,612.82Z" fill="#A5052D"/>
<path d="M313.90,610.42L315.22,612.82L312.58,612.82Z" fill="#A5052D"/>
<path d="M310.70,613.22L312.02,615.62L309.38,615.62Z" fill="#A5052D"/>
<line x1="312.50" y1="612.90" x2="312.50" y2="607.20" stroke="#111" stroke-width="1.05"/>
<line x1="309.40" y1="612.50" x2="314.60" y2="612.50" stroke="#111" stroke-width="1.0"/>
<line x1="309.40" y1="607.50" x2="314.60" y2="607.50" stroke="#111" stroke-width="1.0"/>
<line x1="306.60" y1="610.50" x2="317.40" y2="610.50" stroke="#111" stroke-width="1.05"/>
<path d="M327.50,614.28L328.82,611.88L326.18,611.88Z" fill="#A5052D"/>
<path d="M331.40,614.28L332.72,611.88L330.08,611.88Z" fill="#A5052D"/>
<path d="M326.20,617.28L327.52,614.88L324.88,614.88Z" fill="#A5052D"/>
<path d="M332.70,617.58L334.02,615.18L331.38,615.18Z" fill="#A5052D"/>
<path d="M329.50,619.18L330.82,616.78L328.18,616.78Z" fill="#A5052D"/>
<path d="M329.50,615.98L330.82,613.58L328.18,613.58Z" fill="#A5052D"/>
<line x1="329.50" y1="618.70" x2="329.50" y2="612.90" stroke="#111" stroke-width="1.05"/>
<line x1="326.90" y1="618.50" x2="332.10" y2="618.50" stroke="#111" stroke-width="1.0"/>
<line x1="326.90" y1="612.50" x2="332.10" y2="612.50" stroke="#111" stroke-width="1.0"/>
<line x1="324.10" y1="615.50" x2="334.90" y2="615.50" stroke="#111" stroke-width="1.05"/>
<text transform="translate(281.00,630.96) rotate(-45)" x="-20.42" y="0" font-size="7" textLength="20.42" lengthAdjust="spacingAndGlyphs" fill="#1a1a1a">Vehicle</text>
<text transform="translate(298.10,630.96) rotate(-45)" x="-23.53" y="0" font-size="7" textLength="23.53" lengthAdjust="spacingAndGlyphs" fill="#1a1a1a">PKC412</text>
<text transform="translate(315.30,630.96) rotate(-45)" x="-20.27" y="0" font-size="7" textLength="20.27" lengthAdjust="spacingAndGlyphs" fill="#1a1a1a">MS023</text>
<text transform="translate(332.80,630.96) rotate(-45)" x="-49.83" y="0" font-size="7" textLength="49.83" lengthAdjust="spacingAndGlyphs" fill="#1a1a1a">PKC412+MS023</text>
<text transform="translate(349.60,538.60)" x="0.00" y="0" font-size="12.8" font-weight="bold" fill="#000">L</text>
<line x1="390.90" y1="550.50" x2="396.20" y2="550.50" stroke="#2E4A80" stroke-width="1.5"/>
<path d="M393.50,549.25L394.60,551.25L392.40,551.25Z" fill="#2E4A80"/>
<text transform="translate(399.60,552.90)" x="0.00" y="0" font-size="7" textLength="40.50" lengthAdjust="spacingAndGlyphs" fill="#1a1a1a">Vehicle (n=5)</text>
<line x1="390.90" y1="559.10" x2="396.20" y2="559.10" stroke="#A5052D" stroke-width="1.5"/>
<path d="M393.50,557.85L394.60,559.85L392.40,559.85Z" fill="#A5052D"/>
<text transform="translate(399.60,561.50)" x="0.00" y="0" font-size="7" textLength="43.50" lengthAdjust="spacingAndGlyphs" fill="#1a1a1a">PKC412 (n=5)</text>
<line x1="390.90" y1="567.80" x2="396.20" y2="567.80" stroke="#532668" stroke-width="1.5"/>
<path d="M393.50,566.55L394.60,568.55L392.40,568.55Z" fill="#532668"/>
<text transform="translate(399.60,570.20)" x="0.00" y="0" font-size="7" textLength="39.50" lengthAdjust="spacingAndGlyphs" fill="#1a1a1a">MS023 (n=5)</text>
<line x1="390.90" y1="576.50" x2="396.20" y2="576.50" stroke="#69A842" stroke-width="1.5"/>
<path d="M393.50,575.25L394.60,577.25L392.40,577.25Z" fill="#69A842"/>
<text transform="translate(399.60,578.90)" x="0.00" y="0" font-size="7" textLength="69.50" lengthAdjust="spacingAndGlyphs" fill="#1a1a1a">PKC412+MS023 (n=6)</text>
<path d="M477.6,556.3H479.7V574.4H477.6" fill="none" stroke="#111" stroke-width="0.9"/>
<text transform="translate(482.80,567.50)" x="0.00" y="0" font-size="6.8" font-style="italic" textLength="3.60" lengthAdjust="spacingAndGlyphs" fill="#1a1a1a">p</text>
<text transform="translate(486.60,567.50)" x="0.00" y="0" font-size="6.8" textLength="25.40" lengthAdjust="spacingAndGlyphs" fill="#1a1a1a">=0.0025</text>
<line x1="379.60" y1="579.60" x2="379.60" y2="643.30" stroke="#111" stroke-width="1.2"/>
<line x1="376.20" y1="642.80" x2="379.60" y2="642.80" stroke="#111" stroke-width="1.1"/>
<text transform="translate(373.60,645.20)" x="-3.63" y="0" font-size="6.8" textLength="3.63" lengthAdjust="spacingAndGlyphs" fill="#1a1a1a">0</text>
<line x1="376.20" y1="614.15" x2="379.60" y2="614.15" stroke="#111" stroke-width="1.1"/>
<text transform="translate(373.60,616.55)" x="-7.26" y="0" font-size="6.8" textLength="7.26" lengthAdjust="spacingAndGlyphs" fill="#1a1a1a">50</text>
<line x1="376.20" y1="585.50" x2="379.60" y2="585.50" stroke="#111" stroke-width="1.1"/>
<text transform="translate(373.60,587.90)" x="-10.89" y="0" font-size="6.8" textLength="10.89" lengthAdjust="spacingAndGlyphs" fill="#1a1a1a">100</text>
<line x1="376.20" y1="642.80" x2="477.60" y2="642.80" stroke="#111" stroke-width="1.4"/>
<line x1="379.60" y1="642.80" x2="379.60" y2="646.10" stroke="#111" stroke-width="1.1"/>
<text transform="translate(379.60,655.20)" x="-1.82" y="0" font-size="6.8" textLength="3.63" lengthAdjust="spacingAndGlyphs" fill="#1a1a1a">0</text>
<line x1="398.54" y1="642.80" x2="398.54" y2="646.10" stroke="#111" stroke-width="1.1"/>
<text transform="translate(398.54,655.20)" x="-3.63" y="0" font-size="6.8" textLength="7.26" lengthAdjust="spacingAndGlyphs" fill="#1a1a1a">20</text>
<line x1="417.48" y1="642.80" x2="417.48" y2="646.10" stroke="#111" stroke-width="1.1"/>
<text transform="translate(417.48,655.20)" x="-3.63" y="0" font-size="6.8" textLength="7.26" lengthAdjust="spacingAndGlyphs" fill="#1a1a1a">40</text>
<line x1="436.42" y1="642.80" x2="436.42" y2="646.10" stroke="#111" stroke-width="1.1"/>
<text transform="translate(436.42,655.20)" x="-3.63" y="0" font-size="6.8" textLength="7.26" lengthAdjust="spacingAndGlyphs" fill="#1a1a1a">60</text>
<line x1="455.36" y1="642.80" x2="455.36" y2="646.10" stroke="#111" stroke-width="1.1"/>
<text transform="translate(455.36,655.20)" x="-3.63" y="0" font-size="6.8" textLength="7.26" lengthAdjust="spacingAndGlyphs" fill="#1a1a1a">80</text>
<line x1="474.30" y1="642.80" x2="474.30" y2="646.10" stroke="#111" stroke-width="1.1"/>
<text transform="translate(474.30,655.20)" x="-5.45" y="0" font-size="6.8" textLength="10.89" lengthAdjust="spacingAndGlyphs" fill="#1a1a1a">100</text>
<text transform="translate(427.40,666.40)" x="-7.10" y="0" font-size="8.2" textLength="14.20" lengthAdjust="spacingAndGlyphs" fill="#1a1a1a">Days</text>
<text transform="translate(356.20,611.40) rotate(-90)" x="-24.90" y="0" font-size="8.2" textLength="49.80" lengthAdjust="spacingAndGlyphs" fill="#1a1a1a">Percent survival</text>
<path d="M426,585.5H462.3V596.5H463.9V608H466.6V631H468.8V642.8" fill="none" stroke="#69A842" stroke-width="1.5"/>
<path d="M426,585.5H441.7V597.0H446.6V608.4H447.4V619.9H449.9V631.3H452.4V642.8" fill="none" stroke="#532668" stroke-width="1.5"/>
<path d="M426,585.5H442.7V608.4H447V619.9H449.6V642.8" fill="none" stroke="#A5052D" stroke-width="1.5"/>
<path d="M379.6,585.5H425.8V597.0H428.8V608.4H430V619.9H431.2V631.3H432.8V642.8" fill="none" stroke="#2E4A80" stroke-width="1.5"/>
<line x1="426.00" y1="592.50" x2="442.60" y2="592.50" stroke="#222" stroke-width="1"/>
<text transform="translate(434.30,593.00)" x="-2.80" y="0" font-size="6.6" textLength="5.60" lengthAdjust="spacingAndGlyphs" fill="#111" stroke="none">**</text>
<line x1="432.20" y1="627.50" x2="449.60" y2="627.50" stroke="#222" stroke-width="1"/>
<text transform="translate(440.90,628.00)" x="-2.80" y="0" font-size="6.6" textLength="5.60" lengthAdjust="spacingAndGlyphs" fill="#111" stroke="none">**</text>
<line x1="449.80" y1="625.50" x2="467.00" y2="625.50" stroke="#222" stroke-width="1"/>
<text transform="translate(458.40,626.00)" x="-2.80" y="0" font-size="6.6" textLength="5.60" lengthAdjust="spacingAndGlyphs" fill="#111" stroke="none">**</text>
</svg>
</body></html>
